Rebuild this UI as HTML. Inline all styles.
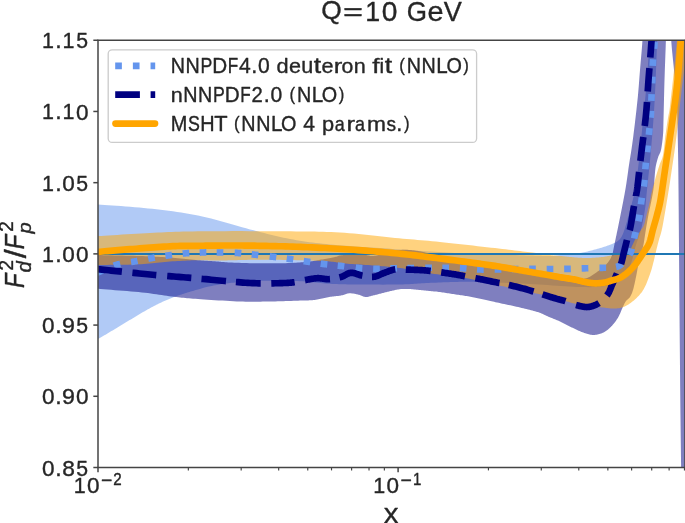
<!DOCTYPE html>
<html><head><meta charset="utf-8"><style>html,body{margin:0;padding:0;background:#fff;width:685px;height:523px;overflow:hidden;}svg{display:block;font-family:"Liberation Sans", sans-serif;will-change:transform;}</style></head><body>
<svg width="685" height="523" viewBox="0 0 685 523">
<defs><clipPath id="ax"><rect x="98.0" y="40.25" width="587.0" height="427.25"/></clipPath></defs>
<rect x="0" y="0" width="685" height="523" fill="#ffffff"/>
<g clip-path="url(#ax)">
<path d="M80.00,203.50 L81.40,203.58 L82.63,203.65 L83.75,203.71 L84.81,203.77 L85.88,203.82 L87.00,203.88 L88.23,203.95 L89.63,204.03 L91.25,204.14 L93.15,204.26 L95.38,204.41 L98.00,204.60 L101.05,204.81 L104.48,205.04 L108.25,205.28 L112.30,205.54 L116.56,205.82 L121.00,206.12 L125.55,206.45 L130.15,206.79 L134.75,207.15 L139.30,207.54 L143.73,207.96 L148.00,208.40 L152.16,208.85 L156.31,209.31 L160.45,209.78 L164.59,210.27 L168.73,210.78 L172.88,211.32 L177.02,211.89 L181.19,212.51 L185.36,213.17 L189.55,213.88 L193.76,214.66 L198.00,215.50 L202.30,216.43 L206.69,217.47 L211.14,218.60 L215.63,219.79 L220.13,221.03 L224.62,222.29 L229.08,223.57 L233.48,224.83 L237.80,226.07 L242.00,227.25 L246.08,228.37 L250.00,229.40 L253.75,230.36 L257.36,231.30 L260.84,232.20 L264.22,233.07 L267.52,233.91 L270.75,234.73 L273.94,235.51 L277.11,236.26 L280.28,236.99 L283.47,237.69 L286.70,238.36 L290.00,239.00 L293.30,239.61 L296.55,240.18 L299.77,240.71 L302.96,241.21 L306.16,241.68 L309.38,242.13 L312.62,242.56 L315.93,242.97 L319.30,243.36 L322.75,243.75 L326.32,244.12 L330.00,244.50 L333.82,244.86 L337.75,245.20 L341.80,245.52 L345.93,245.81 L350.12,246.10 L354.38,246.38 L358.66,246.64 L362.96,246.91 L367.27,247.17 L371.55,247.44 L375.80,247.71 L380.00,248.00 L384.17,248.29 L388.33,248.59 L392.50,248.90 L396.67,249.20 L400.83,249.51 L405.00,249.81 L409.17,250.11 L413.33,250.41 L417.50,250.70 L421.67,250.97 L425.83,251.24 L430.00,251.50 L434.17,251.75 L438.33,251.99 L442.50,252.22 L446.67,252.44 L450.83,252.66 L455.00,252.88 L459.17,253.08 L463.33,253.28 L467.50,253.47 L471.67,253.65 L475.83,253.83 L480.00,254.00 L484.26,254.16 L488.68,254.32 L493.20,254.47 L497.78,254.61 L502.35,254.75 L506.88,254.88 L511.29,255.00 L515.56,255.11 L519.61,255.22 L523.40,255.32 L526.88,255.41 L530.00,255.50 L532.75,255.58 L535.17,255.66 L537.32,255.73 L539.22,255.80 L540.92,255.86 L542.44,255.91 L543.82,255.95 L545.11,255.98 L546.34,256.00 L547.53,256.02 L548.74,256.01 L550.00,256.00 L551.21,255.97 L552.26,255.93 L553.20,255.88 L554.04,255.81 L554.82,255.74 L555.56,255.66 L556.31,255.56 L557.07,255.46 L557.90,255.36 L558.81,255.24 L559.83,255.12 L561.00,255.00 L562.32,254.87 L563.75,254.74 L565.28,254.61 L566.89,254.46 L568.55,254.31 L570.25,254.16 L571.96,253.99 L573.67,253.81 L575.34,253.63 L576.97,253.43 L578.53,253.22 L580.00,253.00 L581.39,252.76 L582.73,252.52 L584.03,252.26 L585.30,251.99 L586.53,251.71 L587.75,251.42 L588.95,251.12 L590.15,250.81 L591.34,250.49 L592.55,250.17 L593.76,249.84 L595.00,249.50 L596.27,249.15 L597.57,248.79 L598.89,248.41 L600.22,248.03 L601.55,247.63 L602.88,247.23 L604.18,246.83 L605.44,246.42 L606.67,246.01 L607.85,245.60 L608.96,245.20 L610.00,244.80 L610.97,244.42 L611.89,244.05 L612.77,243.71 L613.59,243.36 L614.38,243.02 L615.12,242.67 L615.84,242.30 L616.52,241.91 L617.17,241.50 L617.80,241.04 L618.41,240.55 L619.00,240.00 L619.55,239.44 L620.05,238.88 L620.51,238.33 L620.93,237.76 L621.32,237.16 L621.69,236.51 L622.05,235.81 L622.41,235.04 L622.77,234.19 L623.16,233.24 L623.56,232.18 L624.00,231.00 L624.47,229.67 L624.95,228.18 L625.45,226.57 L625.96,224.85 L626.48,223.05 L627.00,221.19 L627.52,219.29 L628.04,217.37 L628.55,215.46 L629.05,213.58 L629.53,211.75 L630.00,210.00 L630.45,208.33 L630.90,206.72 L631.34,205.16 L631.78,203.63 L632.20,202.10 L632.62,200.56 L633.04,198.99 L633.44,197.37 L633.84,195.68 L634.24,193.90 L634.62,192.01 L635.00,190.00 L635.37,187.88 L635.72,185.69 L636.07,183.44 L636.41,181.11 L636.74,178.72 L637.06,176.25 L637.38,173.72 L637.70,171.11 L638.02,168.44 L638.34,165.69 L638.67,162.88 L639.00,160.00 L639.34,156.98 L639.68,153.80 L640.02,150.47 L640.37,147.04 L640.72,143.54 L641.06,140.00 L641.40,136.46 L641.74,132.96 L642.07,129.53 L642.39,126.20 L642.70,123.02 L643.00,120.00 L643.29,117.18 L643.56,114.54 L643.82,112.03 L644.07,109.63 L644.32,107.30 L644.56,105.00 L644.80,102.70 L645.04,100.37 L645.27,97.97 L645.51,95.46 L645.75,92.82 L646.00,90.00 L646.25,86.98 L646.51,83.80 L646.77,80.47 L647.04,77.04 L647.30,73.54 L647.56,70.00 L647.82,66.46 L648.07,62.96 L648.32,59.53 L648.56,56.20 L648.79,53.02 L649.00,50.00 L649.20,47.18 L649.39,44.54 L649.57,42.03 L649.74,39.63 L649.90,37.30 L650.06,35.00 L650.22,32.70 L650.37,30.37 L650.52,27.97 L650.68,25.46 L650.84,22.82 L651.00,20.00 L651.17,17.02 L651.33,13.91 L651.50,10.70 L651.67,7.41 L651.83,4.04 L652.00,0.62 L652.17,-2.83 L652.33,-6.30 L652.50,-9.77 L652.67,-13.22 L652.83,-16.63 L653.00,-20.00 L661.00,-40.00 L660.83,-36.67 L660.66,-33.33 L660.50,-30.00 L660.33,-26.67 L660.16,-23.33 L659.99,-20.00 L659.82,-16.67 L659.65,-13.33 L659.49,-10.00 L659.32,-6.67 L659.16,-3.33 L659.00,0.00 L658.85,3.27 L658.70,6.44 L658.55,9.53 L658.41,12.59 L658.27,15.65 L658.13,18.75 L657.99,21.92 L657.84,25.19 L657.69,28.59 L657.54,32.18 L657.37,35.97 L657.20,40.00 L657.02,44.33 L656.84,48.96 L656.65,53.83 L656.46,58.89 L656.27,64.09 L656.07,69.38 L655.86,74.70 L655.65,80.00 L655.43,85.23 L655.19,90.35 L654.95,95.29 L654.70,100.00 L654.43,104.55 L654.16,109.03 L653.87,113.44 L653.57,117.78 L653.26,122.05 L652.94,126.25 L652.62,130.38 L652.30,134.44 L651.97,138.44 L651.65,142.36 L651.32,146.22 L651.00,150.00 L650.67,153.75 L650.33,157.49 L649.97,161.20 L649.61,164.85 L649.25,168.44 L648.89,171.94 L648.54,175.33 L648.20,178.59 L647.87,181.71 L647.55,184.66 L647.26,187.43 L647.00,190.00 L646.77,192.31 L646.57,194.36 L646.41,196.18 L646.26,197.81 L646.13,199.30 L646.00,200.69 L645.87,202.00 L645.74,203.30 L645.59,204.60 L645.43,205.96 L645.23,207.41 L645.00,209.00 L644.74,210.70 L644.46,212.45 L644.16,214.25 L643.85,216.07 L643.53,217.91 L643.19,219.75 L642.84,221.57 L642.48,223.37 L642.12,225.12 L641.75,226.82 L641.37,228.45 L641.00,230.00 L640.62,231.44 L640.24,232.78 L639.84,234.03 L639.44,235.22 L639.04,236.37 L638.62,237.50 L638.20,238.63 L637.78,239.78 L637.34,240.97 L636.90,242.22 L636.45,243.56 L636.00,245.00 L635.55,246.56 L635.10,248.23 L634.66,249.99 L634.22,251.81 L633.77,253.68 L633.31,255.56 L632.83,257.44 L632.33,259.30 L631.80,261.10 L631.24,262.84 L630.64,264.48 L630.00,266.00 L629.32,267.44 L628.62,268.83 L627.90,270.18 L627.15,271.48 L626.37,272.73 L625.56,273.94 L624.72,275.09 L623.85,276.19 L622.95,277.23 L622.00,278.21 L621.02,279.14 L620.00,280.00 L618.96,280.80 L617.91,281.52 L616.84,282.18 L615.74,282.78 L614.61,283.32 L613.44,283.81 L612.21,284.26 L610.93,284.67 L609.57,285.04 L608.14,285.38 L606.62,285.70 L605.00,286.00 L603.35,286.27 L601.70,286.50 L600.04,286.70 L598.33,286.85 L596.56,286.97 L594.69,287.06 L592.70,287.12 L590.56,287.15 L588.24,287.15 L585.73,287.12 L582.99,287.07 L580.00,287.00 L576.71,286.89 L573.11,286.72 L569.26,286.51 L565.19,286.26 L560.94,285.98 L556.56,285.69 L552.10,285.38 L547.59,285.07 L543.09,284.77 L538.62,284.49 L534.25,284.23 L530.00,284.00 L525.76,283.79 L521.40,283.59 L516.96,283.38 L512.48,283.19 L508.00,282.99 L503.56,282.81 L499.20,282.64 L494.96,282.48 L490.88,282.34 L487.00,282.21 L483.36,282.09 L480.00,282.00 L476.95,281.93 L474.19,281.87 L471.68,281.83 L469.37,281.81 L467.22,281.80 L465.19,281.80 L463.23,281.81 L461.30,281.84 L459.35,281.87 L457.35,281.91 L455.25,281.95 L453.00,282.00 L450.64,282.06 L448.22,282.13 L445.77,282.21 L443.30,282.31 L440.81,282.41 L438.31,282.52 L435.83,282.63 L433.37,282.75 L430.95,282.86 L428.57,282.98 L426.25,283.09 L424.00,283.20 L421.88,283.31 L419.92,283.43 L418.07,283.55 L416.30,283.67 L414.56,283.80 L412.81,283.92 L411.02,284.05 L409.15,284.16 L407.15,284.26 L404.98,284.36 L402.61,284.44 L400.00,284.50 L397.09,284.55 L393.88,284.58 L390.44,284.61 L386.81,284.62 L383.07,284.63 L379.25,284.62 L375.42,284.62 L371.63,284.60 L367.94,284.58 L364.40,284.56 L361.07,284.53 L358.00,284.50 L355.18,284.47 L352.55,284.45 L350.06,284.42 L347.70,284.39 L345.44,284.35 L343.25,284.31 L341.10,284.26 L338.96,284.20 L336.81,284.12 L334.62,284.03 L332.36,283.93 L330.00,283.80 L327.59,283.64 L325.17,283.45 L322.76,283.23 L320.33,283.00 L317.89,282.75 L315.44,282.49 L312.96,282.23 L310.44,281.98 L307.90,281.75 L305.31,281.53 L302.68,281.35 L300.00,281.20 L297.19,281.08 L294.22,280.98 L291.13,280.90 L287.96,280.83 L284.76,280.78 L281.56,280.74 L278.42,280.71 L275.37,280.69 L272.46,280.68 L269.73,280.68 L267.23,280.69 L265.00,280.70 L263.07,280.72 L261.40,280.75 L259.96,280.79 L258.70,280.84 L257.59,280.91 L256.56,280.98 L255.59,281.05 L254.63,281.13 L253.63,281.22 L252.56,281.31 L251.36,281.40 L250.00,281.50 L248.51,281.59 L246.97,281.69 L245.38,281.78 L243.74,281.87 L242.07,281.97 L240.38,282.08 L238.66,282.20 L236.93,282.33 L235.19,282.47 L233.45,282.63 L231.72,282.80 L230.00,283.00 L228.25,283.22 L226.44,283.47 L224.59,283.75 L222.70,284.04 L220.81,284.34 L218.94,284.66 L217.09,284.98 L215.30,285.30 L213.57,285.61 L211.93,285.92 L210.40,286.22 L209.00,286.50 L207.74,286.76 L206.61,287.02 L205.59,287.27 L204.67,287.51 L203.81,287.74 L203.00,287.98 L202.22,288.22 L201.44,288.46 L200.66,288.71 L199.83,288.96 L198.95,289.22 L198.00,289.50 L196.99,289.79 L195.96,290.07 L194.91,290.37 L193.85,290.67 L192.78,290.97 L191.69,291.28 L190.59,291.60 L189.48,291.92 L188.37,292.25 L187.25,292.59 L186.12,292.94 L185.00,293.30 L183.87,293.66 L182.73,294.03 L181.58,294.41 L180.43,294.79 L179.27,295.18 L178.10,295.57 L176.93,295.98 L175.75,296.40 L174.57,296.83 L173.38,297.27 L172.19,297.73 L171.00,298.20 L169.80,298.69 L168.60,299.19 L167.39,299.70 L166.18,300.22 L164.96,300.76 L163.74,301.31 L162.51,301.86 L161.29,302.43 L160.06,303.01 L158.84,303.60 L157.62,304.20 L156.40,304.80 L155.18,305.42 L153.97,306.04 L152.75,306.68 L151.53,307.33 L150.32,307.99 L149.10,308.66 L147.88,309.34 L146.67,310.02 L145.45,310.71 L144.23,311.40 L143.02,312.10 L141.80,312.80 L140.58,313.51 L139.37,314.22 L138.15,314.94 L136.93,315.67 L135.72,316.41 L134.50,317.15 L133.28,317.89 L132.07,318.64 L130.85,319.38 L129.63,320.12 L128.42,320.86 L127.20,321.60 L125.98,322.33 L124.77,323.07 L123.55,323.80 L122.33,324.54 L121.12,325.27 L119.90,326.01 L118.68,326.74 L117.47,327.47 L116.25,328.21 L115.03,328.94 L113.82,329.67 L112.60,330.40 L111.39,331.12 L110.21,331.84 L109.03,332.54 L107.86,333.24 L106.69,333.95 L105.51,334.65 L104.32,335.36 L103.12,336.08 L101.89,336.81 L100.63,337.55 L99.34,338.32 L98.00,339.10 L96.62,339.91 L95.20,340.73 L93.74,341.58 L92.25,342.44 L90.74,343.31 L89.21,344.19 L87.67,345.08 L86.13,345.97 L84.58,346.86 L83.04,347.75 L81.51,348.63 L80.00,349.50 Z" fill="#6495ed" fill-opacity="0.5"/>
<path d="M80.00,254.00 L81.42,254.08 L82.72,254.17 L83.94,254.25 L85.11,254.33 L86.28,254.42 L87.50,254.50 L88.80,254.58 L90.22,254.67 L91.81,254.75 L93.61,254.83 L95.66,254.92 L98.00,255.00 L100.70,255.08 L103.75,255.16 L107.09,255.24 L110.67,255.31 L114.41,255.39 L118.25,255.47 L122.14,255.55 L126.00,255.63 L129.78,255.71 L133.42,255.80 L136.84,255.90 L140.00,256.00 L142.92,256.10 L145.69,256.21 L148.34,256.31 L150.89,256.41 L153.35,256.52 L155.75,256.64 L158.11,256.76 L160.44,256.89 L162.78,257.02 L165.14,257.17 L167.54,257.33 L170.00,257.50 L172.55,257.69 L175.17,257.91 L177.85,258.15 L180.56,258.40 L183.26,258.67 L185.94,258.93 L188.56,259.20 L191.11,259.45 L193.55,259.70 L195.87,259.92 L198.03,260.13 L200.00,260.30 L201.78,260.45 L203.37,260.57 L204.80,260.67 L206.11,260.76 L207.31,260.83 L208.44,260.90 L209.51,260.96 L210.56,261.02 L211.60,261.08 L212.67,261.14 L213.80,261.22 L215.00,261.30 L216.20,261.39 L217.33,261.49 L218.40,261.60 L219.44,261.70 L220.49,261.81 L221.56,261.91 L222.69,262.02 L223.89,262.12 L225.20,262.22 L226.63,262.32 L228.22,262.41 L230.00,262.50 L231.97,262.58 L234.13,262.67 L236.45,262.75 L238.89,262.84 L241.44,262.92 L244.06,262.99 L246.74,263.06 L249.44,263.13 L252.15,263.19 L254.83,263.23 L257.45,263.27 L260.00,263.30 L262.53,263.32 L265.12,263.33 L267.73,263.33 L270.37,263.33 L273.01,263.31 L275.62,263.29 L278.21,263.27 L280.74,263.23 L283.20,263.19 L285.58,263.13 L287.85,263.07 L290.00,263.00 L292.05,262.92 L294.03,262.82 L295.94,262.71 L297.78,262.60 L299.55,262.47 L301.25,262.34 L302.88,262.20 L304.44,262.06 L305.94,261.92 L307.36,261.78 L308.72,261.64 L310.00,261.50 L311.17,261.37 L312.19,261.24 L313.09,261.11 L313.89,260.99 L314.62,260.86 L315.31,260.73 L315.99,260.60 L316.67,260.46 L317.38,260.31 L318.16,260.15 L319.02,259.98 L320.00,259.80 L321.10,259.60 L322.31,259.38 L323.61,259.15 L324.96,258.91 L326.35,258.66 L327.75,258.40 L329.13,258.14 L330.48,257.89 L331.77,257.65 L332.96,257.42 L334.05,257.20 L335.00,257.00 L335.80,256.82 L336.46,256.64 L337.02,256.47 L337.48,256.31 L337.88,256.15 L338.25,256.01 L338.60,255.87 L338.96,255.74 L339.36,255.61 L339.81,255.50 L340.35,255.40 L341.00,255.30 L341.74,255.22 L342.54,255.14 L343.40,255.08 L344.30,255.03 L345.23,254.99 L346.19,254.96 L347.16,254.93 L348.15,254.90 L349.13,254.88 L350.11,254.85 L351.07,254.83 L352.00,254.80 L352.92,254.77 L353.84,254.73 L354.77,254.69 L355.70,254.65 L356.63,254.61 L357.56,254.58 L358.49,254.55 L359.41,254.54 L360.32,254.53 L361.22,254.54 L362.12,254.56 L363.00,254.60 L363.86,254.67 L364.70,254.79 L365.52,254.93 L366.33,255.09 L367.14,255.27 L367.94,255.44 L368.74,255.61 L369.56,255.76 L370.38,255.89 L371.23,255.97 L372.10,256.01 L373.00,256.00 L373.92,255.93 L374.85,255.82 L375.79,255.67 L376.74,255.49 L377.71,255.29 L378.69,255.06 L379.69,254.81 L380.70,254.55 L381.74,254.29 L382.80,254.02 L383.89,253.76 L385.00,253.50 L386.14,253.23 L387.33,252.93 L388.54,252.60 L389.78,252.26 L391.04,251.91 L392.31,251.56 L393.60,251.23 L394.89,250.91 L396.18,250.62 L397.47,250.36 L398.74,250.15 L400.00,250.00 L401.25,249.89 L402.50,249.82 L403.75,249.79 L405.00,249.78 L406.25,249.80 L407.50,249.84 L408.75,249.91 L410.00,250.00 L411.25,250.11 L412.50,250.23 L413.75,250.36 L415.00,250.50 L416.17,250.65 L417.21,250.80 L418.16,250.96 L419.07,251.13 L419.98,251.32 L420.94,251.53 L421.98,251.77 L423.15,252.04 L424.49,252.34 L426.05,252.68 L427.87,253.07 L430.00,253.50 L432.43,253.98 L435.10,254.52 L438.01,255.09 L441.11,255.70 L444.39,256.35 L447.81,257.03 L451.36,257.74 L455.00,258.46 L458.71,259.21 L462.47,259.96 L466.24,260.73 L470.00,261.50 L473.85,262.30 L477.87,263.17 L482.03,264.08 L486.30,265.02 L490.63,265.98 L495.00,266.94 L499.37,267.89 L503.70,268.81 L507.97,269.70 L512.13,270.54 L516.15,271.31 L520.00,272.00 L523.76,272.62 L527.53,273.17 L531.29,273.68 L535.00,274.15 L538.64,274.57 L542.19,274.97 L545.61,275.34 L548.89,275.69 L551.99,276.02 L554.90,276.35 L557.57,276.67 L560.00,277.00 L562.13,277.34 L563.98,277.67 L565.58,278.01 L566.96,278.33 L568.17,278.64 L569.25,278.94 L570.23,279.21 L571.15,279.44 L572.05,279.65 L572.96,279.81 L573.93,279.93 L575.00,280.00 L576.11,280.02 L577.20,280.00 L578.27,279.94 L579.32,279.84 L580.34,279.70 L581.35,279.54 L582.34,279.34 L583.30,279.12 L584.25,278.87 L585.19,278.60 L586.10,278.31 L587.00,278.00 L587.87,277.67 L588.71,277.30 L589.53,276.90 L590.32,276.48 L591.09,276.03 L591.85,275.56 L592.60,275.06 L593.35,274.56 L594.10,274.03 L594.85,273.50 L595.62,272.95 L596.40,272.40 L597.21,271.84 L598.03,271.25 L598.88,270.65 L599.73,270.03 L600.58,269.39 L601.43,268.74 L602.27,268.09 L603.08,267.42 L603.87,266.74 L604.62,266.07 L605.34,265.38 L606.00,264.70 L606.62,264.02 L607.21,263.35 L607.77,262.67 L608.30,262.00 L608.80,261.31 L609.28,260.62 L609.73,259.91 L610.16,259.18 L610.57,258.43 L610.96,257.65 L611.34,256.84 L611.70,256.00 L612.03,255.15 L612.31,254.33 L612.55,253.51 L612.77,252.69 L612.96,251.84 L613.14,250.96 L613.32,250.02 L613.51,249.01 L613.71,247.92 L613.94,246.73 L614.20,245.43 L614.50,244.00 L614.84,242.44 L615.20,240.76 L615.58,238.98 L615.97,237.11 L616.39,235.15 L616.81,233.12 L617.25,231.03 L617.69,228.89 L618.14,226.70 L618.59,224.49 L619.05,222.25 L619.50,220.00 L619.96,217.69 L620.44,215.29 L620.94,212.80 L621.45,210.26 L621.97,207.67 L622.48,205.06 L622.99,202.45 L623.49,199.85 L623.98,197.29 L624.45,194.78 L624.89,192.34 L625.30,190.00 L625.68,187.74 L626.04,185.54 L626.37,183.40 L626.69,181.30 L626.99,179.23 L627.27,177.19 L627.56,175.16 L627.84,173.15 L628.12,171.13 L628.40,169.11 L628.69,167.07 L629.00,165.00 L629.31,162.96 L629.62,161.01 L629.92,159.10 L630.23,157.22 L630.53,155.34 L630.84,153.44 L631.15,151.48 L631.46,149.44 L631.78,147.30 L632.11,145.03 L632.45,142.61 L632.80,140.00 L633.17,137.16 L633.56,134.09 L633.96,130.82 L634.38,127.41 L634.81,123.89 L635.23,120.31 L635.65,116.72 L636.06,113.15 L636.46,109.65 L636.83,106.26 L637.18,103.03 L637.50,100.00 L637.79,97.15 L638.04,94.42 L638.28,91.80 L638.50,89.26 L638.70,86.79 L638.89,84.38 L639.07,81.99 L639.25,79.63 L639.43,77.27 L639.61,74.88 L639.80,72.47 L640.00,70.00 L640.21,67.53 L640.42,65.12 L640.62,62.73 L640.83,60.37 L641.04,58.01 L641.25,55.62 L641.46,53.21 L641.67,50.74 L641.88,48.20 L642.08,45.58 L642.29,42.85 L642.50,40.00 L642.71,37.02 L642.91,33.91 L643.11,30.70 L643.31,27.41 L643.52,24.04 L643.72,20.62 L643.92,17.17 L644.13,13.70 L644.34,10.23 L644.55,6.78 L644.77,3.37 L645.00,0.00 L645.23,-3.33 L645.47,-6.67 L645.71,-10.00 L645.96,-13.33 L646.21,-16.67 L646.47,-20.00 L646.72,-23.33 L646.98,-26.67 L647.24,-30.00 L647.49,-33.33 L647.75,-36.67 L648.00,-40.00 L650.00,-100.00 L700.00,-100.00 L700.00,600.00 L681.50,500.00 L681.47,497.36 L681.44,494.89 L681.41,492.55 L681.38,490.26 L681.35,487.97 L681.33,485.62 L681.30,483.16 L681.26,480.52 L681.23,477.64 L681.19,474.47 L681.15,470.94 L681.10,467.00 L681.05,462.71 L680.99,458.18 L680.93,453.41 L680.87,448.41 L680.80,443.16 L680.73,437.69 L680.66,431.98 L680.59,426.04 L680.52,419.87 L680.44,413.47 L680.37,406.85 L680.30,400.00 L680.23,392.82 L680.15,385.24 L680.08,377.32 L680.00,369.11 L679.93,360.67 L679.85,352.06 L679.77,343.34 L679.70,334.56 L679.62,325.77 L679.55,317.05 L679.47,308.44 L679.40,300.00 L679.33,291.51 L679.26,282.75 L679.19,273.83 L679.12,264.81 L679.05,255.80 L678.98,246.88 L678.91,238.12 L678.85,229.63 L678.78,221.48 L678.72,213.77 L678.66,206.58 L678.60,200.00 L678.55,194.08 L678.50,188.77 L678.45,183.98 L678.41,179.63 L678.37,175.62 L678.33,171.88 L678.29,168.30 L678.24,164.81 L678.19,161.33 L678.14,157.75 L678.07,154.01 L678.00,150.00 L677.92,145.77 L677.84,141.44 L677.76,137.03 L677.67,132.59 L677.58,128.15 L677.48,123.75 L677.38,119.42 L677.26,115.19 L677.14,111.09 L677.01,107.18 L676.86,103.47 L676.70,100.00 L676.52,96.80 L676.33,93.84 L676.13,91.09 L675.91,88.52 L675.68,86.08 L675.44,83.75 L675.20,81.49 L674.96,79.26 L674.71,77.03 L674.47,74.77 L674.23,72.44 L674.00,70.00 L673.76,67.50 L673.52,65.00 L673.26,62.50 L673.00,60.00 L672.74,57.50 L672.49,55.00 L672.24,52.50 L672.00,50.00 L671.77,47.50 L671.56,45.00 L671.37,42.50 L671.20,40.00 L671.06,37.50 L670.94,35.00 L670.84,32.50 L670.76,30.00 L670.69,27.50 L670.63,25.00 L670.58,22.50 L670.53,20.00 L670.48,17.50 L670.43,15.00 L670.37,12.50 L670.30,10.00 L668.00,-60.00 L666.50,10.00 L666.45,12.47 L666.41,14.88 L666.37,17.27 L666.33,19.63 L666.29,21.99 L666.25,24.38 L666.21,26.79 L666.16,29.26 L666.11,31.80 L666.05,34.42 L665.98,37.15 L665.90,40.00 L665.81,42.98 L665.71,46.09 L665.60,49.30 L665.48,52.59 L665.35,55.96 L665.22,59.38 L665.10,62.83 L664.97,66.30 L664.84,69.77 L664.72,73.22 L664.61,76.63 L664.50,80.00 L664.40,83.41 L664.30,86.96 L664.21,90.59 L664.12,94.26 L664.03,97.93 L663.94,101.56 L663.86,105.11 L663.78,108.52 L663.71,111.76 L663.63,114.78 L663.56,117.54 L663.50,120.00 L663.45,122.13 L663.41,123.95 L663.38,125.51 L663.35,126.85 L663.33,128.02 L663.31,129.06 L663.29,130.02 L663.26,130.93 L663.22,131.84 L663.16,132.79 L663.09,133.83 L663.00,135.00 L662.89,136.28 L662.76,137.59 L662.62,138.94 L662.47,140.30 L662.31,141.66 L662.14,143.00 L661.97,144.32 L661.78,145.59 L661.59,146.81 L661.40,147.96 L661.20,149.03 L661.00,150.00 L660.79,150.85 L660.58,151.58 L660.35,152.22 L660.12,152.78 L659.88,153.28 L659.64,153.75 L659.40,154.20 L659.16,154.67 L658.91,155.16 L658.67,155.69 L658.43,156.30 L658.20,157.00 L657.97,157.76 L657.73,158.53 L657.49,159.33 L657.25,160.15 L657.01,161.00 L656.77,161.88 L656.53,162.79 L656.31,163.74 L656.09,164.73 L655.88,165.77 L655.68,166.86 L655.50,168.00 L655.33,169.23 L655.18,170.57 L655.04,171.99 L654.91,173.48 L654.79,175.01 L654.68,176.56 L654.56,178.11 L654.46,179.63 L654.35,181.10 L654.24,182.50 L654.12,183.81 L654.00,185.00 L653.88,186.08 L653.75,187.08 L653.63,188.00 L653.51,188.87 L653.40,189.68 L653.27,190.46 L653.15,191.22 L653.03,191.96 L652.90,192.69 L652.77,193.44 L652.64,194.20 L652.50,195.00 L652.36,195.81 L652.21,196.62 L652.06,197.43 L651.90,198.23 L651.74,199.03 L651.58,199.83 L651.42,200.63 L651.26,201.42 L651.09,202.22 L650.93,203.01 L650.76,203.80 L650.60,204.60 L650.44,205.39 L650.27,206.18 L650.10,206.97 L649.93,207.76 L649.76,208.55 L649.59,209.33 L649.42,210.12 L649.26,210.91 L649.09,211.70 L648.92,212.49 L648.76,213.29 L648.60,214.10 L648.44,214.91 L648.28,215.73 L648.13,216.56 L647.97,217.40 L647.82,218.23 L647.67,219.07 L647.52,219.90 L647.37,220.74 L647.22,221.56 L647.08,222.39 L646.94,223.20 L646.80,224.00 L646.67,224.78 L646.54,225.54 L646.41,226.29 L646.29,227.02 L646.17,227.75 L646.06,228.48 L645.94,229.22 L645.82,229.97 L645.70,230.73 L645.57,231.52 L645.44,232.34 L645.30,233.20 L645.16,234.10 L645.01,235.05 L644.86,236.03 L644.71,237.04 L644.56,238.07 L644.41,239.11 L644.25,240.15 L644.09,241.18 L643.92,242.19 L643.75,243.17 L643.58,244.11 L643.40,245.00 L643.22,245.84 L643.03,246.65 L642.84,247.42 L642.64,248.17 L642.44,248.90 L642.24,249.61 L642.03,250.32 L641.83,251.03 L641.62,251.75 L641.41,252.47 L641.21,253.22 L641.00,254.00 L640.80,254.79 L640.59,255.57 L640.38,256.36 L640.17,257.15 L639.97,257.94 L639.76,258.75 L639.55,259.57 L639.34,260.41 L639.13,261.27 L638.92,262.15 L638.71,263.06 L638.50,264.00 L638.29,264.98 L638.09,265.99 L637.89,267.04 L637.69,268.11 L637.48,269.20 L637.28,270.31 L637.08,271.43 L636.87,272.56 L636.66,273.68 L636.45,274.80 L636.23,275.91 L636.00,277.00 L635.77,278.10 L635.53,279.24 L635.29,280.39 L635.04,281.56 L634.79,282.72 L634.53,283.88 L634.28,285.01 L634.02,286.11 L633.76,287.17 L633.51,288.18 L633.25,289.13 L633.00,290.00 L632.75,290.80 L632.51,291.55 L632.27,292.24 L632.04,292.89 L631.80,293.49 L631.56,294.06 L631.32,294.60 L631.07,295.11 L630.82,295.60 L630.56,296.08 L630.29,296.54 L630.00,297.00 L629.70,297.43 L629.38,297.82 L629.04,298.18 L628.70,298.50 L628.35,298.81 L627.99,299.10 L627.64,299.39 L627.29,299.67 L626.95,299.97 L626.61,300.29 L626.30,300.63 L626.00,301.00 L625.73,301.38 L625.47,301.76 L625.24,302.13 L625.02,302.51 L624.80,302.89 L624.59,303.29 L624.38,303.72 L624.16,304.17 L623.93,304.66 L623.67,305.19 L623.40,305.77 L623.10,306.40 L622.77,307.10 L622.43,307.88 L622.08,308.72 L621.71,309.61 L621.32,310.53 L620.93,311.48 L620.53,312.44 L620.11,313.39 L619.69,314.32 L619.27,315.23 L618.84,316.09 L618.40,316.90 L617.96,317.66 L617.52,318.40 L617.08,319.12 L616.64,319.82 L616.18,320.50 L615.72,321.17 L615.24,321.82 L614.75,322.47 L614.24,323.11 L613.72,323.74 L613.17,324.37 L612.60,325.00 L612.01,325.63 L611.40,326.28 L610.77,326.92 L610.13,327.56 L609.47,328.20 L608.79,328.82 L608.10,329.42 L607.39,330.00 L606.67,330.56 L605.93,331.08 L605.17,331.56 L604.40,332.00 L603.61,332.41 L602.78,332.79 L601.94,333.16 L601.07,333.50 L600.19,333.81 L599.29,334.09 L598.39,334.34 L597.49,334.55 L596.58,334.72 L595.68,334.86 L594.78,334.95 L593.90,335.00 L593.03,335.00 L592.16,334.94 L591.30,334.85 L590.44,334.70 L589.59,334.52 L588.73,334.31 L587.86,334.07 L586.99,333.81 L586.11,333.52 L585.22,333.22 L584.32,332.92 L583.40,332.60 L582.47,332.27 L581.52,331.90 L580.56,331.51 L579.59,331.10 L578.61,330.67 L577.63,330.22 L576.64,329.76 L575.64,329.29 L574.65,328.81 L573.66,328.34 L572.68,327.87 L571.70,327.40 L570.73,326.93 L569.75,326.45 L568.78,325.95 L567.81,325.45 L566.84,324.95 L565.87,324.44 L564.90,323.93 L563.92,323.43 L562.95,322.93 L561.97,322.44 L560.99,321.96 L560.00,321.50 L559.01,321.05 L558.00,320.61 L556.99,320.18 L555.97,319.75 L554.95,319.33 L553.93,318.91 L552.91,318.50 L551.90,318.10 L550.90,317.69 L549.92,317.29 L548.95,316.90 L548.00,316.50 L547.09,316.11 L546.24,315.72 L545.43,315.34 L544.65,314.96 L543.87,314.59 L543.09,314.22 L542.30,313.85 L541.46,313.48 L540.58,313.11 L539.64,312.74 L538.62,312.37 L537.50,312.00 L536.30,311.63 L535.05,311.26 L533.75,310.89 L532.39,310.52 L530.98,310.15 L529.53,309.78 L528.04,309.41 L526.50,309.04 L524.93,308.66 L523.32,308.28 L521.67,307.89 L520.00,307.50 L518.25,307.10 L516.39,306.68 L514.44,306.25 L512.42,305.81 L510.37,305.37 L508.31,304.93 L506.25,304.49 L504.23,304.06 L502.27,303.64 L500.40,303.24 L498.63,302.86 L497.00,302.50 L495.50,302.16 L494.10,301.85 L492.80,301.55 L491.57,301.26 L490.40,300.98 L489.28,300.72 L488.18,300.46 L487.10,300.21 L486.01,299.96 L484.91,299.71 L483.78,299.46 L482.60,299.20 L481.39,298.94 L480.18,298.69 L478.96,298.43 L477.75,298.18 L476.53,297.93 L475.31,297.68 L474.09,297.44 L472.87,297.20 L471.65,296.97 L470.44,296.74 L469.22,296.52 L468.00,296.30 L466.78,296.09 L465.57,295.89 L464.35,295.70 L463.13,295.51 L461.92,295.33 L460.70,295.16 L459.48,294.98 L458.27,294.81 L457.05,294.63 L455.83,294.46 L454.62,294.28 L453.40,294.10 L452.18,293.91 L450.97,293.72 L449.75,293.53 L448.53,293.34 L447.32,293.14 L446.10,292.95 L444.88,292.76 L443.67,292.57 L442.45,292.39 L441.23,292.22 L440.02,292.06 L438.80,291.90 L437.58,291.76 L436.37,291.62 L435.15,291.50 L433.93,291.38 L432.72,291.27 L431.50,291.16 L430.28,291.05 L429.07,290.94 L427.85,290.84 L426.63,290.73 L425.42,290.62 L424.20,290.50 L422.97,290.37 L421.71,290.24 L420.43,290.09 L419.15,289.94 L417.86,289.80 L416.59,289.65 L415.33,289.51 L414.10,289.38 L412.90,289.26 L411.74,289.15 L410.64,289.07 L409.60,289.00 L408.62,288.95 L407.71,288.92 L406.85,288.89 L406.03,288.88 L405.24,288.88 L404.48,288.89 L403.74,288.91 L403.01,288.94 L402.28,288.99 L401.54,289.05 L400.78,289.12 L400.00,289.20 L399.20,289.30 L398.40,289.41 L397.60,289.55 L396.80,289.70 L395.99,289.86 L395.19,290.03 L394.40,290.20 L393.60,290.38 L392.82,290.56 L392.04,290.75 L391.26,290.93 L390.50,291.10 L389.75,291.27 L389.00,291.45 L388.27,291.63 L387.54,291.81 L386.82,292.00 L386.11,292.18 L385.39,292.37 L384.68,292.56 L383.96,292.74 L383.25,292.93 L382.53,293.12 L381.80,293.30 L381.07,293.49 L380.32,293.67 L379.57,293.87 L378.82,294.06 L378.06,294.25 L377.31,294.44 L376.57,294.63 L375.83,294.82 L375.10,295.00 L374.38,295.17 L373.68,295.34 L373.00,295.50 L372.34,295.66 L371.70,295.83 L371.07,296.01 L370.46,296.19 L369.85,296.37 L369.26,296.53 L368.67,296.68 L368.08,296.81 L367.49,296.91 L366.90,296.98 L366.30,297.01 L365.70,297.00 L365.10,296.94 L364.50,296.83 L363.91,296.67 L363.32,296.48 L362.73,296.27 L362.14,296.03 L361.55,295.79 L360.94,295.54 L360.33,295.30 L359.70,295.08 L359.06,294.87 L358.40,294.70 L357.72,294.54 L357.02,294.37 L356.30,294.20 L355.57,294.03 L354.83,293.87 L354.09,293.72 L353.34,293.58 L352.58,293.47 L351.83,293.38 L351.08,293.31 L350.33,293.29 L349.60,293.30 L348.88,293.36 L348.18,293.47 L347.49,293.61 L346.80,293.79 L346.12,294.00 L345.43,294.22 L344.73,294.45 L344.02,294.69 L343.28,294.91 L342.52,295.13 L341.73,295.33 L340.90,295.50 L340.04,295.65 L339.16,295.77 L338.25,295.89 L337.33,296.00 L336.38,296.10 L335.42,296.21 L334.43,296.31 L333.43,296.42 L332.40,296.54 L331.35,296.68 L330.29,296.83 L329.20,297.00 L328.08,297.20 L326.93,297.43 L325.75,297.68 L324.55,297.94 L323.32,298.22 L322.08,298.50 L320.83,298.78 L319.57,299.04 L318.32,299.30 L317.07,299.53 L315.83,299.73 L314.60,299.90 L313.43,300.03 L312.34,300.14 L311.31,300.23 L310.30,300.29 L309.30,300.34 L308.26,300.38 L307.18,300.41 L306.01,300.43 L304.73,300.46 L303.32,300.50 L301.76,300.54 L300.00,300.60 L298.04,300.67 L295.89,300.75 L293.58,300.83 L291.14,300.92 L288.59,301.01 L285.96,301.09 L283.28,301.18 L280.57,301.26 L277.86,301.33 L275.18,301.40 L272.55,301.46 L270.00,301.50 L267.54,301.54 L265.14,301.58 L262.78,301.62 L260.44,301.66 L258.11,301.69 L255.75,301.71 L253.35,301.72 L250.89,301.72 L248.34,301.70 L245.69,301.66 L242.92,301.59 L240.00,301.50 L236.86,301.38 L233.49,301.22 L229.92,301.04 L226.23,300.84 L222.44,300.62 L218.63,300.39 L214.84,300.15 L211.12,299.90 L207.52,299.66 L204.10,299.43 L200.91,299.21 L198.00,299.00 L195.39,298.81 L193.04,298.64 L190.90,298.48 L188.94,298.33 L187.09,298.17 L185.33,298.02 L183.60,297.86 L181.86,297.69 L180.07,297.50 L178.17,297.29 L176.13,297.06 L173.90,296.80 L171.54,296.51 L169.15,296.18 L166.71,295.84 L164.23,295.47 L161.68,295.08 L159.08,294.69 L156.41,294.29 L153.66,293.89 L150.84,293.50 L147.92,293.11 L144.91,292.75 L141.80,292.40 L138.48,292.07 L134.88,291.74 L131.07,291.41 L127.11,291.09 L123.07,290.78 L119.02,290.47 L115.01,290.17 L111.12,289.87 L107.41,289.59 L103.94,289.32 L100.78,289.05 L98.00,288.80 L95.60,288.56 L93.51,288.34 L91.69,288.13 L90.09,287.94 L88.67,287.75 L87.39,287.57 L86.19,287.39 L85.04,287.22 L83.90,287.04 L82.70,286.87 L81.42,286.69 L80.00,286.50 Z" fill="#000080" fill-opacity="0.5"/>
<path d="M80.00,237.00 L81.39,236.93 L82.61,236.88 L83.70,236.83 L84.74,236.78 L85.78,236.74 L86.88,236.69 L88.09,236.63 L89.48,236.56 L91.11,236.48 L93.03,236.38 L95.31,236.25 L98.00,236.10 L101.16,235.91 L104.75,235.69 L108.70,235.45 L112.96,235.18 L117.46,234.89 L122.12,234.60 L126.90,234.30 L131.70,234.01 L136.48,233.73 L141.17,233.46 L145.70,233.22 L150.00,233.00 L154.02,232.80 L157.78,232.62 L161.37,232.44 L164.85,232.27 L168.31,232.11 L171.81,231.96 L175.44,231.82 L179.26,231.69 L183.35,231.57 L187.79,231.47 L192.65,231.38 L198.00,231.30 L203.99,231.24 L210.61,231.19 L217.76,231.15 L225.30,231.13 L233.11,231.12 L241.06,231.12 L249.04,231.13 L256.93,231.15 L264.59,231.18 L271.90,231.21 L278.75,231.25 L285.00,231.30 L290.70,231.34 L296.02,231.38 L301.00,231.42 L305.70,231.46 L310.19,231.50 L314.50,231.56 L318.70,231.64 L322.85,231.74 L327.00,231.88 L331.20,232.04 L335.52,232.25 L340.00,232.50 L344.62,232.81 L349.28,233.17 L353.98,233.59 L358.70,234.04 L363.42,234.52 L368.12,235.02 L372.79,235.53 L377.41,236.04 L381.95,236.54 L386.41,237.03 L390.77,237.48 L395.00,237.90 L399.07,238.28 L402.96,238.64 L406.72,238.97 L410.37,239.29 L413.95,239.60 L417.50,239.91 L421.05,240.22 L424.63,240.53 L428.28,240.86 L432.04,241.22 L435.93,241.59 L440.00,242.00 L444.30,242.44 L448.82,242.92 L453.52,243.43 L458.33,243.96 L463.22,244.50 L468.12,245.04 L472.99,245.59 L477.78,246.13 L482.42,246.66 L486.88,247.17 L491.09,247.65 L495.00,248.10 L498.66,248.52 L502.16,248.93 L505.51,249.32 L508.70,249.70 L511.76,250.06 L514.69,250.41 L517.49,250.75 L520.19,251.08 L522.77,251.40 L525.27,251.71 L527.67,252.01 L530.00,252.30 L532.21,252.58 L534.28,252.85 L536.22,253.12 L538.04,253.37 L539.75,253.61 L541.38,253.84 L542.92,254.06 L544.41,254.27 L545.84,254.47 L547.25,254.65 L548.63,254.83 L550.00,255.00 L551.33,255.15 L552.57,255.29 L553.74,255.40 L554.85,255.51 L555.91,255.60 L556.94,255.69 L557.94,255.77 L558.93,255.85 L559.91,255.93 L560.91,256.01 L561.94,256.10 L563.00,256.20 L564.08,256.31 L565.17,256.42 L566.25,256.54 L567.33,256.66 L568.42,256.78 L569.50,256.89 L570.58,257.01 L571.67,257.12 L572.75,257.23 L573.83,257.33 L574.92,257.42 L576.00,257.50 L577.08,257.57 L578.16,257.65 L579.24,257.72 L580.31,257.78 L581.39,257.84 L582.47,257.89 L583.55,257.94 L584.63,257.97 L585.71,258.00 L586.80,258.01 L587.90,258.01 L589.00,258.00 L590.13,257.97 L591.30,257.92 L592.49,257.86 L593.70,257.79 L594.92,257.70 L596.12,257.61 L597.31,257.51 L598.46,257.40 L599.57,257.30 L600.62,257.20 L601.60,257.10 L602.50,257.00 L603.31,256.91 L604.03,256.81 L604.67,256.72 L605.26,256.62 L605.80,256.52 L606.31,256.42 L606.81,256.32 L607.30,256.21 L607.80,256.11 L608.32,256.01 L608.88,255.90 L609.50,255.80 L610.15,255.69 L610.81,255.59 L611.48,255.48 L612.17,255.36 L612.86,255.25 L613.56,255.14 L614.28,255.03 L615.00,254.91 L615.73,254.81 L616.48,254.70 L617.23,254.60 L618.00,254.50 L618.80,254.43 L619.65,254.39 L620.54,254.38 L621.44,254.39 L622.36,254.39 L623.28,254.39 L624.18,254.36 L625.06,254.30 L625.89,254.20 L626.66,254.04 L627.37,253.81 L628.00,253.50 L628.54,253.10 L629.02,252.63 L629.43,252.08 L629.79,251.49 L630.11,250.84 L630.39,250.16 L630.66,249.46 L630.91,248.75 L631.16,248.03 L631.42,247.33 L631.70,246.65 L632.00,246.00 L632.32,245.37 L632.62,244.74 L632.92,244.10 L633.22,243.47 L633.52,242.83 L633.81,242.19 L634.11,241.56 L634.41,240.92 L634.72,240.29 L635.03,239.66 L635.36,239.03 L635.70,238.40 L636.05,237.77 L636.42,237.14 L636.81,236.50 L637.20,235.87 L637.60,235.23 L638.00,234.60 L638.40,233.97 L638.80,233.36 L639.19,232.75 L639.57,232.15 L639.95,231.57 L640.30,231.00 L640.64,230.46 L640.98,229.96 L641.32,229.48 L641.65,229.03 L641.97,228.58 L642.29,228.13 L642.60,227.68 L642.90,227.21 L643.19,226.71 L643.47,226.19 L643.74,225.62 L644.00,225.00 L644.24,224.35 L644.46,223.69 L644.66,223.01 L644.84,222.31 L645.02,221.59 L645.19,220.84 L645.37,220.06 L645.54,219.24 L645.73,218.38 L645.93,217.47 L646.16,216.51 L646.40,215.50 L646.68,214.39 L646.98,213.17 L647.31,211.85 L647.66,210.46 L648.01,209.04 L648.37,207.59 L648.72,206.16 L649.07,204.76 L649.39,203.42 L649.70,202.16 L649.97,201.01 L650.20,200.00 L650.39,199.14 L650.53,198.43 L650.64,197.84 L650.72,197.33 L650.78,196.89 L650.84,196.47 L650.89,196.05 L650.96,195.61 L651.04,195.11 L651.16,194.53 L651.31,193.84 L651.50,193.00 L651.74,192.02 L652.01,190.94 L652.31,189.77 L652.63,188.52 L652.98,187.22 L653.33,185.88 L653.70,184.51 L654.07,183.15 L654.44,181.80 L654.80,180.48 L655.16,179.21 L655.50,178.00 L655.83,176.84 L656.17,175.68 L656.51,174.54 L656.85,173.41 L657.19,172.29 L657.53,171.19 L657.87,170.10 L658.20,169.04 L658.54,167.99 L658.86,166.97 L659.18,165.97 L659.50,165.00 L659.81,164.09 L660.12,163.28 L660.43,162.52 L660.74,161.81 L661.04,161.13 L661.34,160.44 L661.64,159.72 L661.93,158.96 L662.21,158.13 L662.48,157.21 L662.74,156.17 L663.00,155.00 L663.24,153.67 L663.47,152.21 L663.70,150.63 L663.91,148.96 L664.11,147.22 L664.31,145.44 L664.51,143.63 L664.70,141.81 L664.90,140.02 L665.09,138.28 L665.29,136.59 L665.50,135.00 L665.71,133.45 L665.93,131.89 L666.15,130.33 L666.37,128.78 L666.59,127.25 L666.81,125.75 L667.03,124.29 L667.24,122.89 L667.45,121.55 L667.64,120.28 L667.83,119.09 L668.00,118.00 L668.16,117.03 L668.31,116.20 L668.45,115.48 L668.57,114.85 L668.70,114.28 L668.81,113.75 L668.93,113.23 L669.04,112.70 L669.15,112.14 L669.26,111.52 L669.38,110.81 L669.50,110.00 L669.62,109.14 L669.73,108.28 L669.84,107.43 L669.94,106.56 L670.05,105.65 L670.16,104.69 L670.27,103.66 L670.39,102.56 L670.52,101.35 L670.66,100.03 L670.82,98.59 L671.00,97.00 L671.20,95.25 L671.41,93.34 L671.64,91.30 L671.89,89.15 L672.14,86.89 L672.41,84.56 L672.67,82.17 L672.94,79.74 L673.21,77.29 L673.48,74.84 L673.75,72.40 L674.00,70.00 L674.25,67.61 L674.50,65.17 L674.75,62.71 L675.00,60.22 L675.25,57.71 L675.50,55.19 L675.75,52.65 L676.00,50.11 L676.25,47.57 L676.50,45.03 L676.75,42.51 L677.00,40.00 L677.25,37.53 L677.51,35.12 L677.77,32.73 L678.04,30.37 L678.30,28.01 L678.56,25.62 L678.82,23.21 L679.07,20.74 L679.32,18.20 L679.56,15.58 L679.79,12.85 L680.00,10.00 L680.20,7.02 L680.39,3.91 L680.57,0.70 L680.74,-2.59 L680.90,-5.96 L681.06,-9.38 L681.22,-12.83 L681.37,-16.30 L681.52,-19.77 L681.68,-23.22 L681.84,-26.63 L682.00,-30.00 L690.00,20.00 L689.49,24.23 L688.97,28.56 L688.44,32.97 L687.91,37.41 L687.37,41.85 L686.84,46.25 L686.32,50.58 L685.81,54.81 L685.32,58.91 L684.86,62.82 L684.41,66.53 L684.00,70.00 L683.62,73.17 L683.28,76.04 L682.97,78.67 L682.69,81.11 L682.42,83.41 L682.16,85.62 L681.90,87.80 L681.65,90.00 L681.39,92.27 L681.11,94.65 L680.82,97.21 L680.50,100.00 L680.16,103.00 L679.81,106.15 L679.46,109.41 L679.09,112.78 L678.72,116.21 L678.34,119.69 L677.96,123.18 L677.57,126.67 L677.18,130.12 L676.79,133.51 L676.40,136.81 L676.00,140.00 L675.60,143.12 L675.18,146.24 L674.76,149.34 L674.33,152.41 L673.90,155.44 L673.46,158.44 L673.03,161.38 L672.60,164.26 L672.18,167.07 L671.78,169.80 L671.38,172.45 L671.00,175.00 L670.64,177.42 L670.30,179.71 L669.97,181.88 L669.66,183.96 L669.35,185.97 L669.04,187.94 L668.74,189.88 L668.43,191.81 L668.12,193.77 L667.80,195.78 L667.46,197.84 L667.10,200.00 L666.72,202.28 L666.32,204.68 L665.91,207.16 L665.48,209.70 L665.05,212.26 L664.61,214.81 L664.18,217.32 L663.75,219.74 L663.34,222.05 L662.94,224.22 L662.56,226.22 L662.20,228.00 L661.87,229.56 L661.56,230.91 L661.26,232.09 L660.99,233.13 L660.72,234.06 L660.46,234.91 L660.20,235.71 L659.95,236.49 L659.69,237.28 L659.44,238.10 L659.17,239.00 L658.90,240.00 L658.62,241.08 L658.32,242.21 L658.02,243.36 L657.72,244.54 L657.42,245.73 L657.12,246.91 L656.82,248.09 L656.53,249.24 L656.25,250.35 L655.99,251.43 L655.73,252.45 L655.50,253.40 L655.29,254.28 L655.10,255.08 L654.93,255.82 L654.78,256.51 L654.63,257.18 L654.49,257.82 L654.35,258.45 L654.21,259.10 L654.06,259.76 L653.89,260.45 L653.71,261.20 L653.50,262.00 L653.28,262.84 L653.06,263.70 L652.85,264.57 L652.62,265.45 L652.39,266.36 L652.14,267.29 L651.88,268.24 L651.60,269.23 L651.29,270.24 L650.96,271.29 L650.60,272.37 L650.20,273.50 L649.77,274.69 L649.31,275.97 L648.83,277.31 L648.32,278.70 L647.79,280.12 L647.23,281.55 L646.66,282.98 L646.06,284.39 L645.44,285.77 L644.81,287.09 L644.16,288.34 L643.50,289.50 L642.82,290.59 L642.10,291.64 L641.37,292.64 L640.61,293.60 L639.84,294.53 L639.05,295.42 L638.25,296.29 L637.43,297.12 L636.60,297.92 L635.77,298.70 L634.94,299.46 L634.10,300.20 L633.25,300.92 L632.39,301.62 L631.51,302.30 L630.63,302.95 L629.73,303.58 L628.83,304.17 L627.92,304.74 L627.01,305.27 L626.10,305.76 L625.19,306.22 L624.29,306.63 L623.40,307.00 L622.53,307.32 L621.68,307.59 L620.84,307.82 L620.01,308.01 L619.19,308.16 L618.36,308.28 L617.51,308.37 L616.64,308.43 L615.74,308.47 L614.81,308.50 L613.83,308.50 L612.80,308.50 L611.74,308.48 L610.67,308.42 L609.59,308.34 L608.48,308.23 L607.35,308.09 L606.18,307.94 L604.96,307.78 L603.70,307.60 L602.38,307.41 L600.99,307.21 L599.53,307.00 L598.00,306.80 L596.38,306.60 L594.66,306.40 L592.87,306.20 L591.01,305.99 L589.10,305.77 L587.14,305.54 L585.14,305.29 L583.12,305.01 L581.08,304.71 L579.04,304.38 L577.01,304.01 L575.00,303.60 L573.00,303.14 L571.01,302.64 L569.01,302.09 L567.00,301.50 L564.98,300.89 L562.94,300.26 L560.87,299.61 L558.78,298.97 L556.65,298.32 L554.48,297.69 L552.26,297.08 L550.00,296.50 L547.66,295.93 L545.23,295.37 L542.73,294.81 L540.19,294.25 L537.60,293.70 L535.00,293.15 L532.40,292.61 L529.81,292.07 L527.27,291.54 L524.77,291.02 L522.34,290.50 L520.00,290.00 L517.75,289.51 L515.57,289.03 L513.45,288.57 L511.37,288.11 L509.33,287.66 L507.31,287.22 L505.31,286.78 L503.30,286.33 L501.27,285.89 L499.22,285.43 L497.14,284.97 L495.00,284.50 L492.85,284.01 L490.73,283.52 L488.61,283.01 L486.50,282.50 L484.37,281.98 L482.22,281.47 L480.02,280.95 L477.78,280.44 L475.46,279.94 L473.07,279.45 L470.59,278.97 L468.00,278.50 L465.28,278.05 L462.41,277.61 L459.43,277.19 L456.35,276.78 L453.21,276.37 L450.03,275.97 L446.83,275.57 L443.65,275.17 L440.50,274.76 L437.40,274.35 L434.40,273.93 L431.50,273.50 L428.69,273.05 L425.91,272.58 L423.17,272.09 L420.46,271.59 L417.79,271.09 L415.16,270.59 L412.55,270.10 L409.98,269.63 L407.44,269.18 L404.93,268.75 L402.45,268.35 L400.00,268.00 L397.60,267.69 L395.27,267.41 L392.99,267.15 L390.75,266.93 L388.54,266.73 L386.36,266.54 L384.18,266.36 L382.00,266.19 L379.80,266.03 L377.58,265.86 L375.31,265.68 L373.00,265.50 L370.59,265.31 L368.08,265.12 L365.49,264.94 L362.86,264.76 L360.21,264.59 L357.58,264.41 L354.99,264.24 L352.47,264.07 L350.07,263.90 L347.80,263.73 L345.70,263.57 L343.80,263.40 L342.16,263.23 L340.80,263.06 L339.65,262.90 L338.66,262.73 L337.78,262.56 L336.95,262.40 L336.12,262.24 L335.23,262.08 L334.23,261.93 L333.06,261.78 L331.67,261.64 L330.00,261.50 L328.10,261.37 L326.05,261.24 L323.87,261.11 L321.57,260.99 L319.15,260.88 L316.64,260.76 L314.03,260.65 L311.34,260.55 L308.58,260.45 L305.77,260.36 L302.90,260.28 L300.00,260.20 L296.98,260.13 L293.80,260.06 L290.47,259.99 L287.04,259.93 L283.54,259.88 L280.00,259.83 L276.46,259.79 L272.96,259.76 L269.53,259.73 L266.20,259.71 L263.02,259.70 L260.00,259.70 L257.10,259.71 L254.25,259.74 L251.45,259.78 L248.70,259.83 L246.03,259.89 L243.44,259.95 L240.93,260.02 L238.52,260.08 L236.21,260.15 L234.02,260.20 L231.94,260.26 L230.00,260.30 L228.23,260.34 L226.66,260.38 L225.24,260.41 L223.96,260.45 L222.79,260.48 L221.69,260.51 L220.63,260.54 L219.59,260.56 L218.54,260.58 L217.44,260.59 L216.27,260.60 L215.00,260.60 L213.69,260.59 L212.41,260.55 L211.15,260.51 L209.89,260.46 L208.62,260.40 L207.31,260.34 L205.96,260.28 L204.56,260.23 L203.07,260.20 L201.49,260.18 L199.81,260.18 L198.00,260.20 L196.06,260.24 L194.02,260.30 L191.87,260.37 L189.63,260.45 L187.32,260.55 L184.94,260.65 L182.51,260.77 L180.04,260.89 L177.54,261.03 L175.03,261.18 L172.51,261.33 L170.00,261.50 L167.50,261.69 L164.99,261.90 L162.47,262.14 L159.93,262.40 L157.36,262.67 L154.75,262.94 L152.10,263.21 L149.41,263.47 L146.66,263.71 L143.84,263.94 L140.96,264.14 L138.00,264.30 L134.88,264.43 L131.54,264.54 L128.05,264.63 L124.44,264.70 L120.79,264.75 L117.12,264.79 L113.51,264.83 L110.00,264.86 L106.64,264.89 L103.49,264.92 L100.59,264.96 L98.00,265.00 L95.73,265.05 L93.73,265.09 L91.95,265.14 L90.37,265.18 L88.94,265.22 L87.62,265.26 L86.39,265.30 L85.19,265.34 L83.98,265.38 L82.75,265.42 L81.43,265.46 L80.00,265.50 Z" fill="#ffa500" fill-opacity="0.5"/>
<line x1="98.0" y1="253.9" x2="685.0" y2="253.9" stroke="#1f77b4" stroke-width="2"/>
<path d="M96.55,272.77 L97.08,272.60 L98.00,272.30 L98.93,271.98 L99.87,271.63 L100.81,271.26 L101.76,270.88 L102.72,270.48 L102.79,270.45 M113.85,265.68 L114.23,265.53 L115.16,265.20 L116.09,264.88 L117.00,264.60 L117.90,264.34 L118.80,264.11 L119.69,263.89 L120.22,263.77 M131.02,262.04 L131.73,261.94 L132.58,261.80 L133.44,261.66 L134.30,261.50 L135.16,261.34 L136.02,261.17 L136.89,261.00 L137.57,260.86 M148.23,258.71 L148.92,258.57 L149.78,258.41 L150.64,258.25 L151.50,258.10 L152.36,257.95 L153.22,257.80 L154.08,257.65 L154.78,257.53 M165.40,255.87 L166.11,255.77 L166.98,255.64 L167.84,255.52 L168.70,255.40 L169.56,255.28 L170.43,255.16 L171.29,255.04 L172.00,254.94 M182.68,253.61 L183.42,253.54 L184.28,253.45 L185.14,253.37 L186.00,253.30 L186.86,253.23 L187.71,253.16 L188.57,253.10 L189.32,253.05 M199.67,252.59 L200.45,252.56 L201.30,252.54 L202.15,252.52 L203.00,252.50 L203.85,252.48 L204.70,252.47 L205.54,252.45 L206.33,252.44 M216.67,252.46 L217.40,252.47 L218.26,252.48 L219.13,252.49 L220.00,252.50 L220.88,252.51 L221.76,252.52 L222.66,252.54 L223.33,252.55 M234.67,252.83 L235.34,252.86 L236.24,252.90 L237.12,252.95 L238.00,253.00 L238.87,253.06 L239.74,253.12 L240.59,253.19 L241.32,253.25 M251.69,254.33 L252.41,254.41 L253.26,254.51 L254.13,254.60 L255.00,254.70 L255.88,254.80 L256.76,254.89 L257.66,254.99 L258.31,255.07 M269.69,256.40 L270.34,256.48 L271.24,256.58 L272.12,256.69 L273.00,256.80 L273.87,256.91 L274.74,257.01 L275.60,257.12 L276.30,257.21 M286.70,258.55 L287.44,258.65 L288.29,258.76 L289.14,258.88 L290.00,259.00 L290.86,259.12 L291.72,259.24 L292.58,259.37 L293.30,259.47 M303.71,261.06 L303.85,261.08 L304.71,261.21 L305.58,261.34 L306.44,261.47 L307.30,261.60 L308.16,261.73 L309.02,261.86 L309.87,261.99 L310.29,262.05 M320.70,263.60 L320.96,263.64 L321.82,263.76 L322.68,263.87 L323.54,263.99 L324.40,264.10 L325.26,264.21 L326.13,264.31 L326.99,264.42 L327.31,264.45 M337.69,265.56 L338.31,265.62 L339.18,265.72 L340.05,265.81 L340.93,265.90 L341.80,266.00 L342.67,266.10 L343.55,266.20 L344.31,266.29 M355.69,267.65 L355.82,267.67 L356.69,267.76 L357.56,267.84 L358.43,267.92 L359.30,268.00 L360.17,268.07 L361.03,268.14 L361.90,268.21 L362.32,268.24 M373.17,268.84 L373.92,268.86 L374.78,268.88 L375.64,268.89 L376.50,268.90 L377.36,268.90 L378.22,268.90 L379.08,268.89 L379.83,268.87 M390.37,268.42 L391.13,268.39 L391.99,268.35 L392.84,268.33 L393.70,268.30 L394.55,268.28 L395.40,268.26 L396.25,268.24 L397.03,268.22 M407.37,268.05 L408.10,268.04 L408.96,268.02 L409.83,268.01 L410.70,268.00 L411.58,267.99 L412.46,267.98 L413.34,267.96 L414.03,267.95 M425.27,267.82 L425.95,267.82 L426.84,267.81 L427.72,267.81 L428.60,267.80 L429.47,267.79 L430.34,267.79 L431.20,267.78 L431.93,267.78 M442.37,267.77 L443.12,267.77 L443.98,267.78 L444.84,267.79 L445.70,267.80 L446.57,267.81 L447.44,267.83 L448.31,267.84 L449.03,267.85 M459.87,268.15 L460.59,268.18 L461.46,268.22 L462.33,268.26 L463.20,268.30 L464.07,268.35 L464.93,268.40 L465.79,268.45 L466.52,268.51 M477.07,269.33 L477.80,269.38 L478.67,269.43 L479.53,269.47 L480.40,269.50 L481.27,269.53 L482.15,269.55 L483.02,269.57 L483.73,269.58 M494.67,269.55 L495.39,269.54 L496.26,269.53 L497.13,269.51 L498.00,269.50 L498.86,269.49 L499.72,269.47 L500.58,269.45 L501.33,269.43 M511.67,269.08 L512.43,269.06 L513.28,269.04 L514.14,269.02 L515.00,269.00 L515.86,268.99 L516.73,268.97 L517.60,268.96 L518.33,268.95 M529.17,268.90 L529.87,268.90 L530.75,268.90 L531.62,268.90 L532.50,268.90 L533.38,268.90 L534.25,268.90 L535.12,268.91 L535.83,268.91 M546.67,268.99 L547.38,268.99 L548.25,269.00 L549.12,269.00 L550.00,269.00 L550.88,269.00 L551.75,269.00 L552.62,269.00 L553.33,269.00 M564.17,268.95 L564.88,268.94 L565.75,268.93 L566.62,268.92 L567.50,268.90 L568.37,268.88 L569.25,268.86 L570.12,268.84 L570.83,268.82 M581.67,268.41 L582.36,268.39 L583.24,268.36 L584.12,268.33 L585.00,268.30 L585.89,268.27 L586.81,268.25 L587.74,268.22 L588.33,268.20 M599.47,267.89 L599.79,267.89 L600.59,267.86 L601.37,267.84 L602.10,267.82 L602.80,267.80 L603.46,267.78 L604.08,267.77 L604.67,267.76 L605.22,267.75 L605.75,267.74 L606.13,267.74 M616.08,266.93 L616.13,266.92 L616.48,266.84 L616.83,266.75 L617.17,266.66 L617.51,266.55 L617.85,266.42 L618.19,266.29 L618.53,266.14 L618.86,265.98 L619.20,265.80 L619.54,265.61 L619.87,265.40 L620.20,265.18 L620.53,264.94 L620.86,264.69 L621.18,264.44 L621.51,264.17 L621.83,263.89 L621.88,263.84 M629.49,254.81 L629.67,254.50 L629.92,254.02 L630.17,253.51 L630.42,252.97 L630.66,252.40 L630.90,251.80 L631.13,251.16 L631.36,250.48 L631.57,249.77 L631.79,249.03 L631.90,248.62 M634.17,238.45 L634.31,237.80 L634.50,236.92 L634.70,236.05 L634.90,235.20 L635.10,234.35 L635.31,233.50 L635.53,232.65 L635.70,231.97 M638.33,221.26 L638.48,220.57 L638.66,219.71 L638.83,218.86 L639.00,218.00 L639.16,217.15 L639.31,216.30 L639.45,215.45 L639.56,214.72 M640.94,204.30 L641.03,203.59 L641.15,202.73 L641.27,201.87 L641.40,201.00 L641.53,200.13 L641.67,199.25 L641.81,198.37 L641.92,197.71 M643.76,186.50 L643.85,185.85 L643.97,184.96 L644.09,184.08 L644.20,183.20 L644.30,182.33 L644.39,181.46 L644.48,180.59 L644.55,179.89 M645.32,169.32 L645.38,168.57 L645.45,167.72 L645.52,166.86 L645.60,166.00 L645.68,165.14 L645.77,164.28 L645.86,163.42 L645.94,162.69 M647.14,152.11 L647.22,151.39 L647.32,150.52 L647.41,149.66 L647.50,148.80 L647.59,147.94 L647.68,147.07 L647.77,146.21 L647.84,145.49 M648.88,134.81 L648.95,134.09 L649.03,133.23 L649.12,132.36 L649.20,131.50 L649.29,130.64 L649.37,129.77 L649.47,128.91 L649.54,128.19 M650.64,117.62 L650.70,116.86 L650.77,116.00 L650.84,115.15 L650.90,114.30 L650.95,113.45 L651.00,112.61 L651.05,111.77 L651.08,110.98 M651.39,100.83 L651.41,100.05 L651.44,99.21 L651.47,98.36 L651.50,97.50 L651.54,96.64 L651.57,95.78 L651.61,94.91 L651.64,94.17 M652.16,83.33 L652.19,82.63 L652.23,81.75 L652.26,80.88 L652.30,80.00 L652.33,79.12 L652.36,78.25 L652.39,77.37 L652.41,76.67 M652.73,65.83 L652.76,65.10 L652.80,64.23 L652.85,63.37 L652.90,62.50 L652.96,61.64 L653.01,60.78 L653.08,59.92 L653.14,59.18 M654.12,48.72 L654.18,47.98 L654.26,47.12 L654.33,46.26 L654.40,45.40 L654.47,44.54 L654.53,43.67 L654.60,42.81 L654.65,42.08 M655.39,31.32 L655.43,30.65 L655.49,29.77 L655.54,28.88 L655.60,28.00 L655.65,27.11 L655.71,26.22 L655.76,25.33 L655.80,24.68" fill="none" stroke="#6495ed" stroke-width="6.67"/>
<path d="M90.00,268.42 L90.10,268.43 L91.11,268.52 L92.22,268.63 L93.46,268.75 L94.82,268.88 L96.33,269.03 L98.00,269.20 L99.84,269.39 L101.84,269.59 L104.00,269.81 L106.29,270.05 L108.70,270.30 L111.23,270.57 L113.85,270.84 L116.54,271.12 L119.31,271.41 L121.90,271.68 M132.40,272.77 L133.62,272.89 L136.48,273.18 L139.31,273.47 L142.09,273.74 L144.81,274.01 L147.45,274.26 L150.00,274.50 L152.49,274.73 L154.94,274.95 L156.30,275.07 M167.20,276.00 L169.30,276.17 L171.65,276.36 L174.00,276.55 L176.35,276.74 L178.70,276.93 L181.06,277.11 L183.43,277.30 L185.81,277.50 L188.21,277.69 L190.62,277.89 L191.30,277.94 M201.50,278.81 L203.11,278.95 L205.75,279.19 L208.42,279.44 L211.12,279.70 L213.84,279.95 L216.58,280.22 L219.33,280.48 L222.07,280.74 L224.81,281.00 L226.00,281.11 M235.90,282.00 L238.10,282.18 L240.62,282.38 L243.08,282.56 L245.47,282.73 L247.78,282.88 L250.00,283.00 L252.16,283.10 L254.29,283.19 L256.38,283.26 L258.44,283.31 L260.46,283.35 L260.70,283.35 M271.30,283.36 L271.69,283.35 L273.40,283.32 L275.05,283.29 L276.65,283.25 L278.20,283.21 L279.68,283.17 L281.10,283.12 L282.47,283.08 L283.77,283.04 L285.00,283.00 L286.15,282.96 L287.22,282.91 L288.20,282.86 L289.10,282.79 L289.94,282.73 L290.71,282.66 L291.42,282.58 L292.07,282.50 L292.68,282.42 L293.25,282.34 L293.78,282.25 L294.29,282.16 L294.60,282.11 M305.00,280.10 L305.50,280.01 L306.03,279.92 L306.59,279.81 L307.16,279.71 L307.76,279.59 L308.38,279.48 L309.01,279.36 L309.65,279.24 L310.31,279.12 L310.97,279.00 L311.64,278.89 L312.31,278.78 L312.98,278.67 L313.65,278.57 L314.32,278.48 L314.98,278.40 L315.63,278.33 L316.27,278.27 L316.89,278.23 L317.50,278.20 L318.10,278.19 L318.69,278.20 L319.28,278.22 L319.86,278.27 L320.44,278.32 L321.01,278.39 L321.58,278.46 L322.15,278.54 L322.72,278.63 L323.29,278.72 L323.85,278.81 L324.42,278.89 L324.99,278.97 L325.55,279.04 L326.12,279.11 L326.69,279.16 L327.26,279.20 L327.84,279.22 L328.42,279.22 L329.00,279.20 L329.59,279.16 L330.00,279.13 M339.50,277.39 L339.78,277.32 L340.35,277.16 L340.90,277.00 L341.44,276.83 L341.98,276.63 L342.50,276.41 L343.02,276.18 L343.53,275.93 L344.03,275.67 L344.53,275.40 L345.03,275.13 L345.52,274.86 L346.01,274.59 L346.49,274.32 L346.98,274.07 L347.47,273.83 L347.96,273.61 L348.45,273.40 L348.95,273.22 L349.45,273.07 L349.96,272.95 L350.48,272.85 L351.00,272.80 L351.53,272.78 L352.06,272.80 L352.59,272.86 L353.13,272.94 L353.67,273.05 L354.21,273.18 L354.76,273.33 L355.30,273.49 L355.85,273.67 L356.40,273.86 L356.95,274.06 L357.51,274.26 L358.06,274.46 L358.62,274.66 L359.18,274.85 L359.74,275.03 L360.30,275.20 L360.87,275.35 L361.43,275.49 L362.00,275.60 L362.40,275.67 M372.00,276.91 L372.01,276.91 L372.58,276.89 L373.15,276.85 L373.70,276.80 L374.25,276.72 L374.78,276.62 L375.32,276.50 L375.84,276.36 L376.36,276.20 L376.87,276.02 L377.38,275.83 L377.89,275.63 L378.40,275.42 L378.90,275.20 L379.40,274.97 L379.90,274.75 L380.41,274.51 L380.91,274.28 L381.42,274.05 L381.92,273.83 L382.44,273.61 L382.95,273.39 L383.47,273.19 L384.00,273.00 L384.53,272.81 L385.06,272.61 L385.60,272.41 L386.14,272.21 L386.68,272.00 L387.22,271.79 L387.76,271.57 L388.31,271.36 L388.85,271.15 L389.40,270.95 L389.95,270.75 L390.50,270.56 L391.05,270.37 L391.60,270.19 L392.15,270.03 L392.70,269.87 L393.25,269.73 L393.80,269.61 L394.35,269.49 L394.90,269.40 L395.30,269.34 M405.80,269.59 L406.00,269.60 L406.60,269.61 L407.21,269.63 L407.83,269.64 L408.46,269.66 L409.09,269.67 L409.73,269.69 L410.38,269.70 L411.03,269.72 L411.68,269.73 L412.33,269.75 L412.99,269.77 L413.64,269.79 L414.30,269.81 L414.95,269.83 L415.60,269.85 L416.25,269.88 L416.90,269.91 L417.54,269.93 L418.17,269.97 L418.80,270.00 L419.41,270.03 L420.00,270.07 L420.57,270.10 L421.12,270.13 L421.66,270.16 L422.19,270.19 L422.72,270.22 L423.25,270.26 L423.78,270.29 L424.32,270.33 L424.87,270.37 L425.44,270.42 L426.02,270.47 L426.63,270.53 L427.27,270.59 L427.94,270.66 L428.64,270.73 L429.38,270.81 L430.17,270.90 L430.70,270.96 M441.20,272.34 L441.76,272.42 L442.96,272.59 L444.16,272.76 L445.36,272.93 L446.54,273.10 L447.71,273.28 L448.85,273.45 L449.97,273.61 L451.06,273.78 L452.10,273.94 L453.10,274.10 L454.06,274.25 L455.00,274.41 L455.92,274.56 L456.81,274.72 L457.69,274.87 L458.55,275.02 L459.40,275.18 L460.23,275.33 L461.05,275.48 L461.87,275.64 L462.68,275.79 L463.48,275.95 L464.28,276.10 L465.00,276.24 M475.40,278.20 L475.98,278.31 L476.70,278.44 L477.43,278.58 L478.19,278.72 L478.97,278.88 L479.79,279.03 L480.65,279.20 L481.55,279.38 L482.51,279.57 L483.53,279.78 L484.61,280.00 L485.77,280.24 L487.00,280.50 L488.32,280.77 L489.72,281.06 L491.19,281.36 L492.73,281.67 L494.33,282.00 L495.98,282.33 L497.68,282.68 L499.42,283.04 L499.50,283.05 M508.80,285.01 L510.34,285.35 L512.17,285.76 L513.99,286.18 L515.79,286.60 L517.56,287.03 L519.30,287.46 L521.00,287.90 L522.70,288.35 L524.44,288.83 L526.20,289.33 L528.00,289.86 L529.81,290.39 L531.63,290.95 L533.46,291.51 L533.60,291.55 M542.50,294.36 L544.04,294.86 L545.68,295.38 L547.25,295.89 L548.76,296.37 L550.20,296.83 L551.56,297.25 L552.83,297.65 L554.00,298.00 L555.08,298.32 L556.06,298.60 L556.96,298.86 L557.78,299.09 L558.52,299.29 L559.21,299.48 L559.83,299.64 L560.41,299.79 L560.94,299.93 L561.44,300.05 L561.91,300.17 L562.35,300.28 L562.78,300.39 L563.21,300.49 L563.63,300.61 L564.06,300.72 L564.51,300.85 L564.98,300.98 L565.47,301.13 L565.50,301.14 M576.00,305.00 L576.56,305.15 L577.12,305.30 L577.70,305.45 L578.29,305.60 L578.88,305.76 L579.48,305.91 L580.09,306.06 L580.70,306.21 L581.32,306.35 L581.94,306.48 L582.56,306.60 L583.18,306.71 L583.79,306.81 L584.41,306.89 L585.02,306.96 L585.63,307.01 L586.24,307.04 L586.83,307.05 L587.42,307.04 L588.00,307.00 L588.58,306.94 L589.15,306.86 L589.73,306.76 L590.31,306.65 L590.88,306.52 L591.46,306.37 L592.03,306.20 L592.60,306.02 L593.17,305.83 L593.73,305.62 L594.29,305.41 L594.84,305.18 L595.39,304.93 L595.93,304.68 L596.46,304.42 L596.99,304.15 L597.51,303.87 L598.01,303.59 L598.51,303.30 L599.00,303.00 L599.00,303.00 M606.93,295.50 L606.97,295.45 L607.30,295.00 L607.62,294.55 L607.91,294.09 L608.20,293.62 L608.47,293.15 L608.72,292.68 L608.97,292.19 L609.20,291.71 L609.42,291.22 L609.64,290.72 L609.86,290.22 L610.07,289.71 L610.27,289.20 L610.48,288.69 L610.68,288.17 L610.89,287.65 L611.10,287.13 L611.31,286.60 L611.53,286.07 L611.76,285.54 L612.00,285.00 L612.24,284.46 L612.49,283.90 L612.74,283.34 L613.00,282.76 L613.25,282.18 L613.51,281.60 L613.77,281.01 L614.03,280.41 L614.29,279.82 L614.54,279.22 L614.80,278.62 L615.06,278.03 L615.31,277.44 L615.56,276.85 L615.81,276.27 L616.06,275.70 L616.30,275.13 L616.54,274.58 L616.77,274.03 L617.00,273.50 L617.00,273.50 M621.00,264.00 L621.17,263.46 L621.34,262.90 L621.50,262.34 L621.66,261.76 L621.82,261.18 L621.97,260.58 L622.12,259.98 L622.27,259.38 L622.42,258.77 L622.56,258.16 L622.71,257.54 L622.85,256.92 L622.99,256.30 L623.13,255.68 L623.27,255.06 L623.42,254.44 L623.56,253.82 L623.70,253.21 L623.85,252.60 L624.00,252.00 L624.15,251.40 L624.30,250.80 L624.45,250.19 L624.60,249.58 L624.75,248.98 L624.90,248.37 L625.05,247.76 L625.20,247.15 L625.35,246.54 L625.50,245.94 L625.65,245.33 L625.80,244.73 L625.95,244.13 L626.10,243.53 L626.25,242.93 L626.40,242.34 L626.55,241.75 L626.70,241.16 L626.85,240.58 L627.00,240.00 L627.00,240.00 M629.71,230.20 L629.74,230.10 L629.87,229.55 L630.00,229.00 L630.12,228.45 L630.24,227.90 L630.35,227.36 L630.46,226.82 L630.57,226.27 L630.67,225.73 L630.77,225.19 L630.87,224.65 L630.97,224.11 L631.06,223.56 L631.16,223.02 L631.25,222.47 L631.34,221.92 L631.43,221.37 L631.52,220.82 L631.62,220.26 L631.71,219.70 L631.80,219.14 L631.90,218.57 L632.00,218.00 L632.10,217.42 L632.20,216.84 L632.30,216.26 L632.39,215.68 L632.49,215.09 L632.58,214.51 L632.68,213.91 L632.78,213.32 L632.87,212.72 L632.97,212.12 L633.07,211.52 L633.16,210.92 L633.26,210.31 L633.36,209.70 L633.46,209.09 L633.57,208.48 L633.67,207.86 L633.78,207.25 L633.89,206.62 L634.00,206.00 L634.04,205.80 M635.95,196.00 L635.95,195.99 L636.07,195.36 L636.19,194.74 L636.30,194.14 L636.40,193.56 L636.50,193.00 L636.59,192.47 L636.68,191.98 L636.75,191.52 L636.83,191.09 L636.89,190.68 L636.96,190.29 L637.02,189.91 L637.07,189.54 L637.13,189.18 L637.18,188.81 L637.23,188.44 L637.29,188.06 L637.34,187.66 L637.40,187.24 L637.45,186.79 L637.51,186.31 L637.58,185.80 L637.65,185.25 L637.72,184.65 L637.80,184.00 L637.88,183.30 L637.97,182.56 L638.06,181.78 L638.16,180.96 L638.25,180.11 L638.35,179.23 L638.45,178.33 L638.55,177.40 L638.65,176.46 L638.76,175.50 L638.86,174.53 L638.97,173.56 L639.07,172.58 L639.14,172.00 M640.37,161.00 L640.41,160.67 L640.49,159.97 L640.58,159.26 L640.66,158.53 L640.75,157.79 L640.84,157.01 L640.94,156.20 L641.04,155.35 L641.15,154.46 L641.26,153.50 L641.38,152.49 L641.51,151.40 L641.65,150.24 L641.80,149.00 L641.96,147.67 L642.14,146.26 L642.33,144.77 L642.53,143.22 L642.74,141.61 L642.95,139.94 L643.18,138.22 L643.33,137.00 M644.72,126.00 L644.80,125.40 L645.02,123.54 L645.23,121.68 L645.44,119.84 L645.64,118.03 L645.83,116.25 L646.00,114.50 L646.16,112.77 L646.32,111.04 L646.47,109.30 L646.61,107.56 L646.74,105.82 L646.87,104.07 L647.00,102.33 L647.02,102.00 M647.72,91.50 L647.80,90.17 L647.91,88.45 L648.03,86.74 L648.14,85.04 L648.26,83.35 L648.38,81.67 L648.50,80.00 L648.63,78.33 L648.75,76.66 L648.88,74.98 L649.02,73.30 L649.15,71.61 L649.28,69.93 L649.41,68.26 L649.43,68.10 M650.28,57.40 L650.32,56.86 L650.45,55.31 L650.56,53.78 L650.68,52.29 L650.79,50.82 L650.90,49.39 L651.00,48.00 L651.10,46.65 L651.19,45.34 L651.28,44.08 L651.37,42.86 L651.46,41.66 L651.54,40.50 L651.62,39.36 L651.70,38.25 L651.77,37.15 L651.84,36.06 L651.91,34.98 L651.98,33.91 L652.05,32.84 L652.12,31.76 L652.18,30.68 L652.25,29.58 L652.31,28.47 L652.37,27.34 L652.44,26.18 L652.50,25.00 L652.56,23.80 L652.62,22.58 L652.68,21.36 L652.73,20.13 L652.74,20.00" fill="none" stroke="#000080" stroke-width="6.67"/>
<path d="M80.00,253.80 L81.46,253.64 L82.84,253.49 L84.17,253.34 L85.48,253.20 L86.79,253.05 L88.12,252.90 L89.51,252.75 L90.96,252.59 L92.52,252.43 L94.19,252.26 L96.01,252.09 L98.00,251.90 L100.15,251.70 L102.43,251.50 L104.83,251.29 L107.33,251.07 L109.94,250.84 L112.62,250.61 L115.39,250.38 L118.22,250.14 L121.11,249.91 L124.04,249.67 L127.01,249.43 L130.00,249.20 L133.09,248.96 L136.34,248.70 L139.72,248.43 L143.19,248.16 L146.71,247.88 L150.25,247.61 L153.78,247.35 L157.26,247.10 L160.66,246.86 L163.94,246.65 L167.06,246.46 L170.00,246.30 L172.74,246.17 L175.31,246.08 L177.75,246.00 L180.07,245.95 L182.31,245.91 L184.50,245.89 L186.66,245.87 L188.81,245.86 L191.00,245.85 L193.24,245.84 L195.56,245.83 L198.00,245.80 L200.53,245.77 L203.12,245.73 L205.77,245.70 L208.44,245.66 L211.15,245.63 L213.88,245.60 L216.61,245.57 L219.33,245.55 L222.05,245.53 L224.74,245.51 L227.39,245.50 L230.00,245.50 L232.54,245.50 L235.00,245.51 L237.41,245.51 L239.78,245.53 L242.14,245.54 L244.50,245.56 L246.89,245.59 L249.33,245.62 L251.84,245.65 L254.44,245.70 L257.16,245.75 L260.00,245.80 L262.95,245.86 L265.97,245.92 L269.06,245.98 L272.22,246.05 L275.45,246.13 L278.75,246.21 L282.12,246.29 L285.56,246.39 L289.06,246.50 L292.64,246.62 L296.28,246.75 L300.00,246.90 L303.83,247.06 L307.81,247.23 L311.91,247.42 L316.11,247.61 L320.38,247.82 L324.69,248.04 L329.01,248.26 L333.33,248.50 L337.62,248.74 L341.84,248.99 L345.98,249.24 L350.00,249.50 L353.96,249.77 L357.91,250.05 L361.84,250.34 L365.74,250.64 L369.61,250.95 L373.44,251.26 L377.21,251.58 L380.93,251.90 L384.57,252.23 L388.14,252.55 L391.62,252.88 L395.00,253.20 L398.25,253.52 L401.35,253.84 L404.34,254.15 L407.22,254.47 L410.04,254.78 L412.81,255.11 L415.57,255.43 L418.33,255.77 L421.13,256.11 L423.99,256.46 L426.94,256.82 L430.00,257.20 L433.21,257.60 L436.55,258.02 L440.00,258.46 L443.52,258.91 L447.07,259.37 L450.62,259.83 L454.14,260.29 L457.59,260.75 L460.94,261.19 L464.14,261.62 L467.18,262.02 L470.00,262.40 L472.61,262.75 L475.03,263.07 L477.30,263.38 L479.44,263.66 L481.48,263.94 L483.44,264.21 L485.34,264.47 L487.22,264.74 L489.10,265.01 L491.01,265.29 L492.96,265.59 L495.00,265.90 L497.08,266.23 L499.17,266.57 L501.25,266.92 L503.33,267.27 L505.42,267.63 L507.50,268.00 L509.58,268.37 L511.67,268.74 L513.75,269.11 L515.83,269.47 L517.92,269.84 L520.00,270.20 L522.12,270.56 L524.28,270.94 L526.48,271.31 L528.70,271.69 L530.92,272.07 L533.12,272.45 L535.29,272.82 L537.41,273.19 L539.45,273.54 L541.41,273.88 L543.27,274.20 L545.00,274.50 L546.60,274.78 L548.08,275.05 L549.45,275.29 L550.74,275.53 L551.96,275.75 L553.12,275.97 L554.26,276.18 L555.37,276.38 L556.48,276.58 L557.62,276.79 L558.78,276.99 L560.00,277.20 L561.27,277.41 L562.56,277.62 L563.87,277.82 L565.19,278.02 L566.50,278.22 L567.81,278.42 L569.10,278.62 L570.37,278.81 L571.60,279.01 L572.79,279.20 L573.93,279.40 L575.00,279.60 L576.01,279.80 L576.96,280.01 L577.85,280.23 L578.70,280.44 L579.52,280.66 L580.31,280.87 L581.09,281.08 L581.85,281.28 L582.62,281.48 L583.39,281.66 L584.18,281.84 L585.00,282.00 L585.84,282.15 L586.68,282.30 L587.52,282.45 L588.37,282.59 L589.22,282.72 L590.06,282.84 L590.90,282.96 L591.74,283.06 L592.57,283.14 L593.39,283.21 L594.20,283.27 L595.00,283.30 L595.79,283.31 L596.59,283.31 L597.39,283.29 L598.19,283.25 L598.97,283.20 L599.75,283.13 L600.51,283.06 L601.26,282.97 L601.98,282.89 L602.69,282.79 L603.36,282.70 L604.00,282.60 L604.59,282.51 L605.11,282.41 L605.58,282.32 L606.02,282.22 L606.43,282.12 L606.84,282.01 L607.26,281.88 L607.70,281.74 L608.18,281.59 L608.72,281.42 L609.32,281.22 L610.00,281.00 L610.77,280.77 L611.60,280.54 L612.49,280.30 L613.43,280.06 L614.40,279.79 L615.41,279.51 L616.43,279.19 L617.46,278.84 L618.50,278.46 L619.52,278.02 L620.52,277.54 L621.50,277.00 L622.46,276.41 L623.43,275.77 L624.41,275.08 L625.38,274.36 L626.36,273.60 L627.33,272.79 L628.30,271.96 L629.26,271.09 L630.22,270.18 L631.16,269.25 L632.09,268.29 L633.00,267.30 L633.91,266.26 L634.82,265.13 L635.74,263.95 L636.65,262.71 L637.55,261.45 L638.44,260.17 L639.31,258.89 L640.15,257.62 L640.97,256.38 L641.75,255.19 L642.50,254.06 L643.20,253.00 L643.86,252.03 L644.48,251.12 L645.07,250.27 L645.63,249.46 L646.16,248.68 L646.67,247.92 L647.15,247.16 L647.61,246.40 L648.05,245.61 L648.48,244.79 L648.90,243.92 L649.30,243.00 L649.68,242.03 L650.03,241.03 L650.34,240.01 L650.63,238.96 L650.91,237.90 L651.17,236.81 L651.42,235.71 L651.68,234.59 L651.94,233.46 L652.21,232.32 L652.49,231.16 L652.80,230.00 L653.13,228.82 L653.47,227.62 L653.82,226.39 L654.17,225.15 L654.54,223.89 L654.90,222.62 L655.26,221.35 L655.63,220.07 L655.98,218.80 L656.33,217.52 L656.67,216.26 L657.00,215.00 L657.31,213.80 L657.61,212.67 L657.90,211.60 L658.18,210.56 L658.46,209.51 L658.73,208.44 L659.01,207.31 L659.29,206.11 L659.57,204.80 L659.87,203.37 L660.18,201.78 L660.50,200.00 L660.84,198.03 L661.19,195.90 L661.54,193.62 L661.91,191.22 L662.28,188.72 L662.66,186.12 L663.04,183.47 L663.43,180.78 L663.82,178.06 L664.21,175.35 L664.60,172.65 L665.00,170.00 L665.40,167.37 L665.80,164.72 L666.21,162.05 L666.62,159.37 L667.03,156.67 L667.45,153.94 L667.87,151.19 L668.29,148.41 L668.72,145.60 L669.14,142.77 L669.57,139.90 L670.00,137.00 L670.44,134.03 L670.89,130.98 L671.35,127.87 L671.82,124.70 L672.29,121.51 L672.76,118.31 L673.23,115.12 L673.68,111.96 L674.12,108.85 L674.53,105.81 L674.93,102.85 L675.30,100.00 L675.64,97.25 L675.97,94.59 L676.27,92.01 L676.56,89.48 L676.83,87.00 L677.09,84.56 L677.34,82.15 L677.58,79.74 L677.81,77.34 L678.04,74.92 L678.27,72.48 L678.50,70.00 L678.72,67.50 L678.94,65.00 L679.14,62.50 L679.34,60.00 L679.53,57.50 L679.71,55.00 L679.89,52.50 L680.07,50.00 L680.25,47.50 L680.43,45.00 L680.61,42.50 L680.80,40.00 L680.99,37.50 L681.17,35.00 L681.36,32.50 L681.55,30.00 L681.73,27.50 L681.92,25.00 L682.10,22.50 L682.29,20.00 L682.47,17.50 L682.65,15.00 L682.82,12.50 L683.00,10.00 L683.17,7.50 L683.34,5.00 L683.51,2.50 L683.68,0.00 L683.85,-2.50 L684.01,-5.00 L684.18,-7.50 L684.34,-10.00 L684.50,-12.50 L684.67,-15.00 L684.83,-17.50 L685.00,-20.00" fill="none" stroke="#ffa500" stroke-width="6.67" stroke-linecap="round" stroke-linejoin="round"/>
</g>
<g stroke="#444444" stroke-width="1.5" fill="none">
<line x1="98.0" y1="39.75" x2="98.0" y2="468.0"/>
<line x1="685.0" y1="39.75" x2="685.0" y2="468.0"/>
<line x1="97.5" y1="40.25" x2="685.5" y2="40.25"/>
<line x1="97.5" y1="467.5" x2="685.5" y2="467.5"/>
<line x1="93.33" y1="40.25" x2="98.0" y2="40.25"/>
<line x1="93.33" y1="111.46" x2="98.0" y2="111.46"/>
<line x1="93.33" y1="182.67" x2="98.0" y2="182.67"/>
<line x1="93.33" y1="253.88" x2="98.0" y2="253.88"/>
<line x1="93.33" y1="325.08" x2="98.0" y2="325.08"/>
<line x1="93.33" y1="396.29" x2="98.0" y2="396.29"/>
<line x1="93.33" y1="467.50" x2="98.0" y2="467.50"/>
<line x1="98.00" y1="467.5" x2="98.00" y2="472.17"/>
<line x1="398.10" y1="467.5" x2="398.10" y2="472.17"/>
<line x1="188.34" y1="467.5" x2="188.34" y2="470.4" stroke-width="1.15"/>
<line x1="241.18" y1="467.5" x2="241.18" y2="470.4" stroke-width="1.15"/>
<line x1="278.68" y1="467.5" x2="278.68" y2="470.4" stroke-width="1.15"/>
<line x1="307.76" y1="467.5" x2="307.76" y2="470.4" stroke-width="1.15"/>
<line x1="331.52" y1="467.5" x2="331.52" y2="470.4" stroke-width="1.15"/>
<line x1="351.61" y1="467.5" x2="351.61" y2="470.4" stroke-width="1.15"/>
<line x1="369.02" y1="467.5" x2="369.02" y2="470.4" stroke-width="1.15"/>
<line x1="384.37" y1="467.5" x2="384.37" y2="470.4" stroke-width="1.15"/>
<line x1="488.44" y1="467.5" x2="488.44" y2="470.4" stroke-width="1.15"/>
<line x1="541.28" y1="467.5" x2="541.28" y2="470.4" stroke-width="1.15"/>
<line x1="578.78" y1="467.5" x2="578.78" y2="470.4" stroke-width="1.15"/>
<line x1="607.86" y1="467.5" x2="607.86" y2="470.4" stroke-width="1.15"/>
<line x1="631.62" y1="467.5" x2="631.62" y2="470.4" stroke-width="1.15"/>
<line x1="651.71" y1="467.5" x2="651.71" y2="470.4" stroke-width="1.15"/>
<line x1="669.12" y1="467.5" x2="669.12" y2="470.4" stroke-width="1.15"/>
<line x1="684.47" y1="467.5" x2="684.47" y2="470.4" stroke-width="1.15"/>
</g>
<g fill="#262626" stroke="#262626" stroke-width="0.35" stroke-linejoin="round"><text transform="matrix(1.0068,0,0,1.0595,42.11,48.25)" font-size="21.33">1</text><text transform="matrix(1.0846,0,0,1.1597,55.17,48.25)" font-size="21.33">.</text><text transform="matrix(1.0068,0,0,1.0595,62.51,48.25)" font-size="21.33">1</text><text transform="matrix(0.9954,0,0,1.0650,76.20,48.33)" font-size="21.33">5</text></g>
<g fill="#262626" stroke="#262626" stroke-width="0.35" stroke-linejoin="round"><text transform="matrix(1.0068,0,0,1.0595,42.11,119.46)" font-size="21.33">1</text><text transform="matrix(1.0846,0,0,1.1597,55.17,119.46)" font-size="21.33">.</text><text transform="matrix(1.0068,0,0,1.0595,62.51,119.46)" font-size="21.33">1</text><text transform="matrix(1.0567,0,0,1.0694,75.92,119.54)" font-size="21.33">0</text></g>
<g fill="#262626" stroke="#262626" stroke-width="0.35" stroke-linejoin="round"><text transform="matrix(1.0068,0,0,1.0595,42.11,190.67)" font-size="21.33">1</text><text transform="matrix(1.0846,0,0,1.1597,55.17,190.67)" font-size="21.33">.</text><text transform="matrix(1.0567,0,0,1.0694,62.32,190.75)" font-size="21.33">0</text><text transform="matrix(0.9954,0,0,1.0650,76.20,190.75)" font-size="21.33">5</text></g>
<g fill="#262626" stroke="#262626" stroke-width="0.35" stroke-linejoin="round"><text transform="matrix(1.0068,0,0,1.0595,42.11,261.88)" font-size="21.33">1</text><text transform="matrix(1.0846,0,0,1.1597,55.17,261.88)" font-size="21.33">.</text><text transform="matrix(1.0567,0,0,1.0694,62.32,261.95)" font-size="21.33">0</text><text transform="matrix(1.0567,0,0,1.0694,75.92,261.95)" font-size="21.33">0</text></g>
<g fill="#262626" stroke="#262626" stroke-width="0.35" stroke-linejoin="round"><text transform="matrix(1.0567,0,0,1.0694,41.92,333.16)" font-size="21.33">0</text><text transform="matrix(1.0846,0,0,1.1597,55.17,333.08)" font-size="21.33">.</text><text transform="matrix(1.0886,0,0,1.0694,62.06,333.16)" font-size="21.33">9</text><text transform="matrix(0.9954,0,0,1.0650,76.20,333.16)" font-size="21.33">5</text></g>
<g fill="#262626" stroke="#262626" stroke-width="0.35" stroke-linejoin="round"><text transform="matrix(1.0567,0,0,1.0694,41.92,404.37)" font-size="21.33">0</text><text transform="matrix(1.0846,0,0,1.1597,55.17,404.29)" font-size="21.33">.</text><text transform="matrix(1.0886,0,0,1.0694,62.06,404.37)" font-size="21.33">9</text><text transform="matrix(1.0567,0,0,1.0694,75.92,404.37)" font-size="21.33">0</text></g>
<g fill="#262626" stroke="#262626" stroke-width="0.35" stroke-linejoin="round"><text transform="matrix(1.0567,0,0,1.0694,41.92,475.58)" font-size="21.33">0</text><text transform="matrix(1.0846,0,0,1.1597,55.17,475.50)" font-size="21.33">.</text><text transform="matrix(1.0671,0,0,1.0694,62.25,475.58)" font-size="21.33">8</text><text transform="matrix(0.9954,0,0,1.0650,76.20,475.58)" font-size="21.33">5</text></g>
<g fill="#262626" stroke="#262626" stroke-width="0.35" stroke-linejoin="round"><text transform="matrix(1.0068,0,0,1.0595,73.66,492.90)" font-size="21.33">1</text><text transform="matrix(1.0567,0,0,1.0694,87.07,492.98)" font-size="21.33">0</text><text transform="matrix(1.2873,0,0,1.1765,100.99,486.02)" font-size="14.930999999999997">−</text><text transform="matrix(1.0138,0,0,1.0642,113.23,484.86)" font-size="14.930999999999997">2</text></g>
<g fill="#262626" stroke="#262626" stroke-width="0.35" stroke-linejoin="round"><text transform="matrix(1.0068,0,0,1.0595,373.16,492.90)" font-size="21.33">1</text><text transform="matrix(1.0567,0,0,1.0694,386.57,492.98)" font-size="21.33">0</text><text transform="matrix(1.2873,0,0,1.1765,400.49,486.02)" font-size="14.930999999999997">−</text><text transform="matrix(1.0073,0,0,1.0606,412.88,484.86)" font-size="14.930999999999997">1</text></g>
<g fill="#262626" stroke="#262626" stroke-width="0.35" stroke-linejoin="round"><text transform="matrix(0.9888,0,0,0.9817,321.25,19.07)" font-size="26.67">Q</text><text transform="matrix(1.2874,0,0,0.8761,343.12,19.93)" font-size="26.67">=</text><text transform="matrix(1.0068,0,0,1.0597,365.14,20.60)" font-size="26.67">1</text><text transform="matrix(1.0553,0,0,1.0678,381.85,20.69)" font-size="26.67">0</text><text transform="matrix(0.9757,0,0,1.0678,406.80,20.69)" font-size="26.67">G</text><text transform="matrix(1.0800,0,0,1.0475,427.49,20.70)" font-size="26.67">e</text><text transform="matrix(1.0161,0,0,1.0597,443.70,20.60)" font-size="26.67">V</text></g>
<g fill="#262626" stroke="#262626" stroke-width="0.35" stroke-linejoin="round"><text transform="matrix(1.1092,0,0,1.0350,383.67,522.90)" font-size="26.67">x</text></g>
<g transform="translate(23.5,287.5) rotate(-90)"><g fill="#262626" stroke="#262626" stroke-width="0.35" stroke-linejoin="round"><text transform="matrix(0.8924,0,0,1.0597,-0.53,0.00)" font-size="26.67" font-style="italic">F</text><text transform="matrix(1.0166,0,0,1.0636,17.10,-10.34)" font-size="18.669">2</text><text transform="matrix(1.0810,0,0,1.0538,14.98,7.45)" font-size="18.669" font-style="italic">d</text><text transform="matrix(1.2135,0,0,1.1190,29.29,2.20)" font-size="26.67">/</text><text transform="matrix(0.8924,0,0,1.0597,38.25,0.00)" font-size="26.67" font-style="italic">F</text><text transform="matrix(1.0166,0,0,1.0636,55.87,-10.34)" font-size="18.669">2</text><text transform="matrix(1.0779,0,0,1.0309,54.01,7.28)" font-size="18.669" font-style="italic">p</text></g></g>
<rect x="108.2" y="49.8" width="368.4" height="92.6" rx="4" ry="4" fill="#ffffff" fill-opacity="0.8" stroke="#cccccc" stroke-width="1.33"/>
<line x1="115.2" y1="65.8" x2="155.2" y2="65.8" stroke="#6495ed" stroke-width="6.67" stroke-dasharray="6.67 11.0"/>
<line x1="115.2" y1="94.65" x2="155.2" y2="94.65" stroke="#000080" stroke-width="6.67" stroke-dasharray="24.7 10.7"/>
<line x1="115.5" y1="123.55" x2="155.0" y2="123.55" stroke="#ffa500" stroke-width="6.67" stroke-linecap="round"/>
<g fill="#262626" stroke="#262626" stroke-width="0.35" stroke-linejoin="round"><text transform="matrix(0.9874,0,0,1.0590,170.75,72.80)" font-size="20.0">N</text><text transform="matrix(0.9874,0,0,1.0590,185.55,72.80)" font-size="20.0">N</text><text transform="matrix(0.8840,0,0,1.0590,200.53,72.80)" font-size="20.0">P</text><text transform="matrix(1.0343,0,0,1.0590,212.21,72.80)" font-size="20.0">D</text><text transform="matrix(0.8562,0,0,1.0590,227.74,72.80)" font-size="20.0">F</text><text transform="matrix(1.0543,0,0,1.0590,239.07,72.80)" font-size="20.0">4</text><text transform="matrix(1.0820,0,0,1.1606,251.32,72.80)" font-size="20.0">.</text><text transform="matrix(1.0539,0,0,1.0673,257.93,72.86)" font-size="20.0">0</text><text transform="matrix(1.0870,0,0,1.0531,276.52,72.87)" font-size="20.0">d</text><text transform="matrix(1.0782,0,0,1.0470,289.09,72.87)" font-size="20.0">e</text><text transform="matrix(1.0772,0,0,1.0668,301.37,72.86)" font-size="20.0">u</text><text transform="matrix(1.3364,0,0,1.0728,313.74,72.63)" font-size="20.0">t</text><text transform="matrix(1.0782,0,0,1.0470,321.57,72.87)" font-size="20.0">e</text><text transform="matrix(1.2812,0,0,1.0406,333.65,72.80)" font-size="20.0">r</text><text transform="matrix(1.0629,0,0,1.0470,341.40,72.87)" font-size="20.0">o</text><text transform="matrix(1.0790,0,0,1.0406,353.67,72.80)" font-size="20.0">n</text><text transform="matrix(1.3118,0,0,1.0508,372.21,72.80)" font-size="20.0">f</text><text transform="matrix(1.0268,0,0,1.0485,379.60,72.80)" font-size="20.0">i</text><text transform="matrix(1.3364,0,0,1.0728,384.72,72.63)" font-size="20.0">t</text><text transform="matrix(0.8441,0,0,0.9556,399.32,71.48)" font-size="20.0">(</text><text transform="matrix(0.9874,0,0,1.0590,406.71,72.80)" font-size="20.0">N</text><text transform="matrix(0.9874,0,0,1.0590,421.51,72.80)" font-size="20.0">N</text><text transform="matrix(1.0284,0,0,1.0590,436.25,72.80)" font-size="20.0">L</text><text transform="matrix(0.9897,0,0,1.0673,446.43,72.86)" font-size="20.0">O</text><text transform="matrix(0.8437,0,0,0.9556,463.33,71.48)" font-size="20.0">)</text></g>
<g fill="#262626" stroke="#262626" stroke-width="0.35" stroke-linejoin="round"><text transform="matrix(1.0790,0,0,1.0406,170.78,101.70)" font-size="20.0">n</text><text transform="matrix(0.9874,0,0,1.0590,183.29,101.70)" font-size="20.0">N</text><text transform="matrix(0.9874,0,0,1.0590,198.10,101.70)" font-size="20.0">N</text><text transform="matrix(0.8840,0,0,1.0590,213.07,101.70)" font-size="20.0">P</text><text transform="matrix(1.0343,0,0,1.0590,224.76,101.70)" font-size="20.0">D</text><text transform="matrix(0.8562,0,0,1.0590,240.29,101.70)" font-size="20.0">F</text><text transform="matrix(1.0137,0,0,1.0626,251.56,101.70)" font-size="20.0">2</text><text transform="matrix(1.0820,0,0,1.1606,263.86,101.70)" font-size="20.0">.</text><text transform="matrix(1.0539,0,0,1.0673,270.48,101.76)" font-size="20.0">0</text><text transform="matrix(0.8441,0,0,0.9556,289.55,100.38)" font-size="20.0">(</text><text transform="matrix(0.9874,0,0,1.0590,296.94,101.70)" font-size="20.0">N</text><text transform="matrix(1.0284,0,0,1.0590,311.68,101.70)" font-size="20.0">L</text><text transform="matrix(0.9897,0,0,1.0673,321.86,101.76)" font-size="20.0">O</text><text transform="matrix(0.8437,0,0,0.9556,338.76,100.38)" font-size="20.0">)</text></g>
<g fill="#262626" stroke="#262626" stroke-width="0.35" stroke-linejoin="round"><text transform="matrix(0.9965,0,0,1.0590,170.73,130.80)" font-size="20.0">M</text><text transform="matrix(0.8915,0,0,1.0673,187.98,130.86)" font-size="20.0">S</text><text transform="matrix(0.9944,0,0,1.0590,200.37,130.80)" font-size="20.0">H</text><text transform="matrix(1.0912,0,0,1.0590,214.36,130.80)" font-size="20.0">T</text><text transform="matrix(0.8441,0,0,0.9556,233.97,129.48)" font-size="20.0">(</text><text transform="matrix(0.9874,0,0,1.0590,241.37,130.80)" font-size="20.0">N</text><text transform="matrix(0.9874,0,0,1.0590,256.17,130.80)" font-size="20.0">N</text><text transform="matrix(1.0284,0,0,1.0590,270.91,130.80)" font-size="20.0">L</text><text transform="matrix(0.9897,0,0,1.0673,281.09,130.86)" font-size="20.0">O</text><text transform="matrix(1.0543,0,0,1.0590,303.28,130.80)" font-size="20.0">4</text><text transform="matrix(1.0904,0,0,1.0304,322.06,130.67)" font-size="20.0">p</text><text transform="matrix(0.8982,0,0,1.0470,334.67,130.87)" font-size="20.0">a</text><text transform="matrix(1.2812,0,0,1.0406,346.46,130.80)" font-size="20.0">r</text><text transform="matrix(0.8982,0,0,1.0470,354.93,130.87)" font-size="20.0">a</text><text transform="matrix(1.1394,0,0,1.0406,366.91,130.80)" font-size="20.0">m</text><text transform="matrix(0.9588,0,0,1.0500,386.43,130.87)" font-size="20.0">s</text><text transform="matrix(1.0820,0,0,1.1606,396.36,130.80)" font-size="20.0">.</text><text transform="matrix(0.8437,0,0,0.9556,403.99,129.48)" font-size="20.0">)</text></g>
</svg>
</body></html>
